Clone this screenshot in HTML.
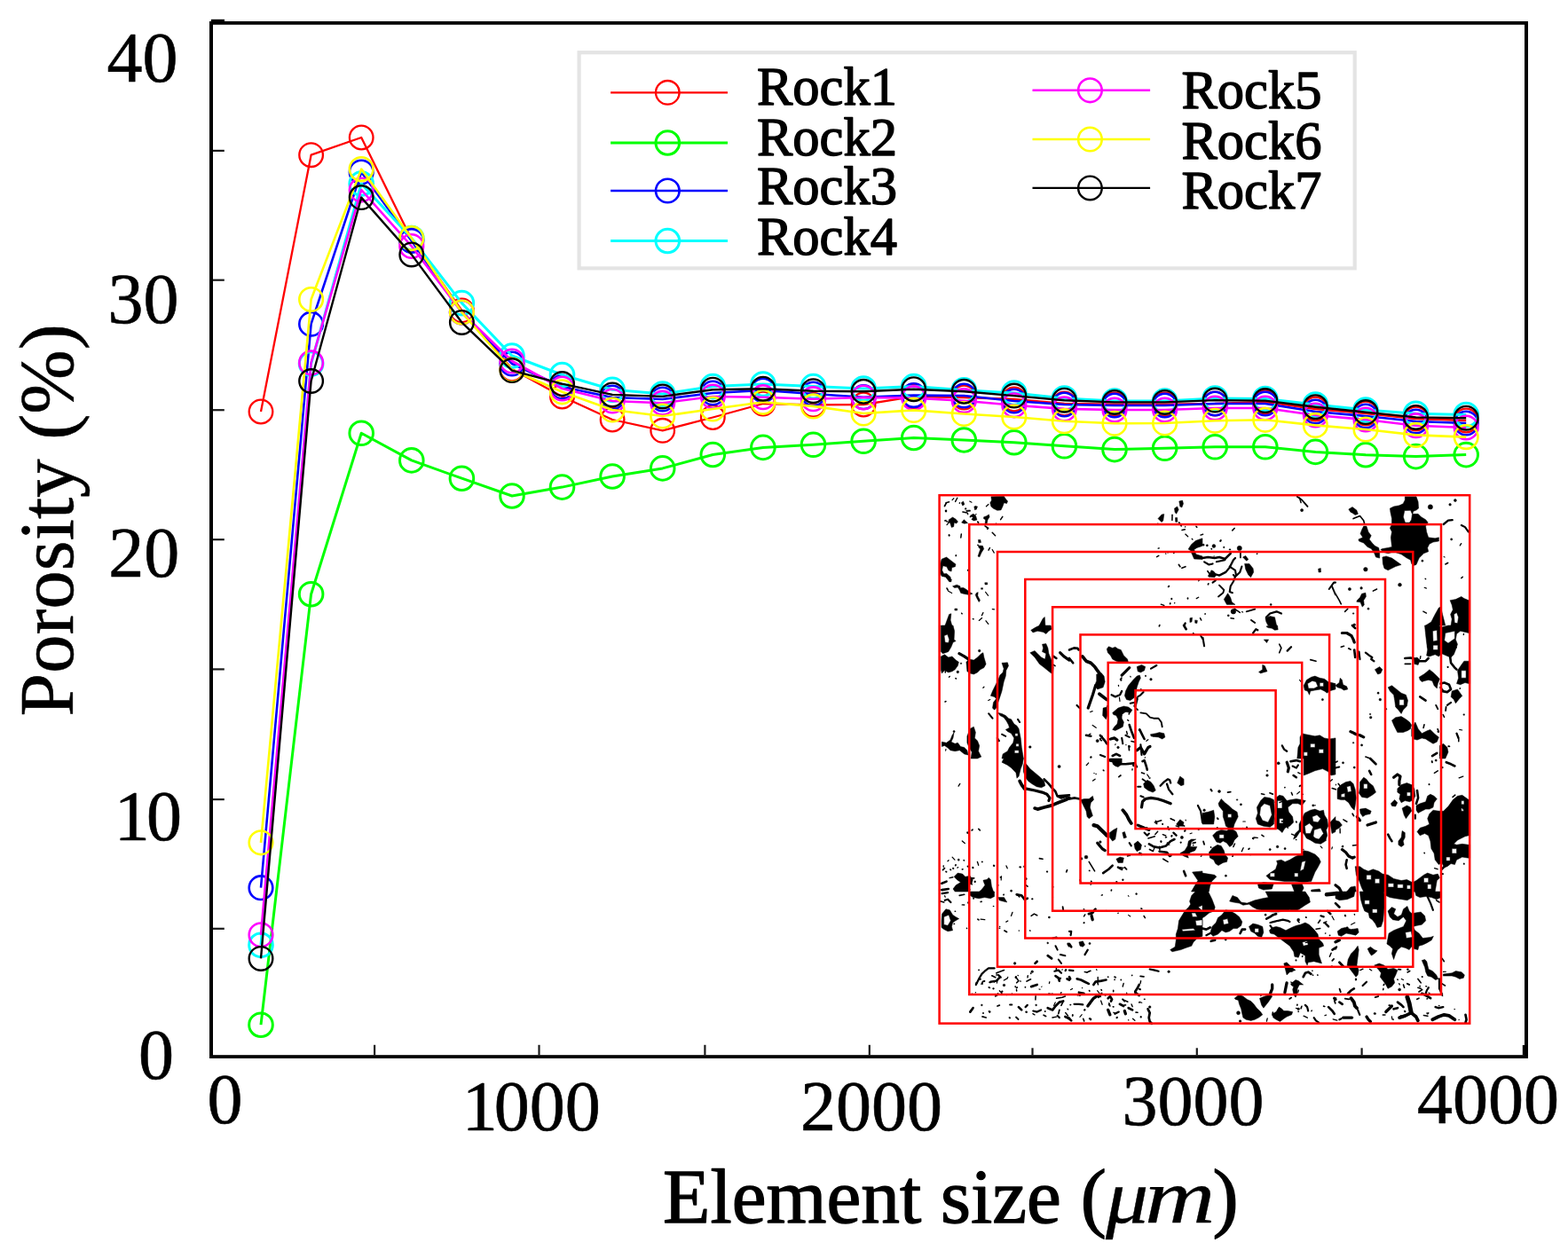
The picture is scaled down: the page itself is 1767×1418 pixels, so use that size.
<!DOCTYPE html>
<html><head><meta charset="utf-8"><title>Porosity vs Element size</title>
<style>html,body{margin:0;padding:0;background:#fff;}body{width:1767px;height:1418px;overflow:hidden;}svg{display:block;}</style>
</head><body>
<svg width="1767" height="1418" viewBox="0 0 1767 1418">
<rect x="0" y="0" width="1767" height="1418" fill="#fff"/>
<g fill="#000" stroke="#000" stroke-width="0.5" stroke-linejoin="round"><path d="M1116.9 559.8 L1131.2 559.2 L1133.8 562.9 L1135.6 565 L1134.5 567.5 L1131.4 566.8 L1129.9 570.9 L1128 574.9 L1123.8 575.3 L1119.5 573.2 L1116.9 570.9 L1115.8 566.8 L1117.4 564Z M1083.3 566.8 L1085.5 565 L1086.9 568.5 L1084.8 570Z M1097.8 570.9 L1100 570.3 L1100.7 574 L1098.4 574.7Z M1088.6 575.3 L1093.3 574.9 L1093.7 576.2 L1089.1 576.7Z M1093.3 581.2 L1096.8 579.3 L1099.6 581.4 L1101 585.9 L1097.5 586.9 L1094.8 585.5 L1096.5 583.3Z M1108.7 582.7 L1111.6 581.7 L1114.4 579.9 L1115.1 582.7 L1113 585.9 L1111.9 591.5 L1110 591.2 L1110.6 585.9 L1108.4 584.4Z M1069.1 585.9 L1073.5 583 L1076.9 585.1 L1079.5 588 L1077.7 590.1 L1075.3 589.1 L1074.7 593.7 L1072.3 594.4 L1070.9 590.1 L1069.6 588Z M1083.6 589.1 L1086.3 585.7 L1090.6 589.6 L1086.7 590.2Z M1102.4 608.4 L1104.9 608.4 L1105.4 611.6 L1102.8 611.8Z M1102.4 614.9 L1107.4 615.3 L1108.7 618.7 L1106 622.9 L1103.9 627.8 L1102 627.1 L1103.7 621.9 L1104.9 618.7 L1103.1 617.6Z M1061.1 630.3 L1066.6 628 L1071.1 631.4 L1077 636 L1076.4 638.8 L1072.7 639.8 L1072.1 644.1 L1069 643 L1066.8 638.8 L1062.6 637.7 L1061.6 642.8 L1063.7 646.8 L1066.8 646.6 L1071.1 650.4 L1072.1 655.7 L1069.8 655.7 L1065.6 650.4 L1061.1 649.4 L1059.7 646.2 L1059.7 635.6Z M1073.5 660.8 L1078.3 659.2 L1082 660.8 L1082.2 662.7 L1085.7 662.4 L1089.9 665 L1091.8 667.1 L1096 669.2 L1092.2 670.5 L1086.7 669.5 L1082.7 668.4 L1081.4 665.2 L1079.3 662.1 L1075.6 662.6Z M1100.3 668.4 L1102.2 667.6 L1101.8 671.4 L1104.5 676.7 L1103.2 678.6 L1100.5 673.7 L1099.2 670.5Z M1109.8 656.8 L1112.7 656.8 L1112.7 658.9 L1110 658.9Z M1105.6 662.7 L1107.5 662.7 L1107.5 664.2 L1105.6 664.2Z M1075.9 686 L1078.7 686 L1078.7 688.1 L1075.9 688.1Z M1065 705 L1069.6 692.5 L1071.9 691.7 L1071.1 699.1 L1072.8 705Z M1171.1 705 L1175.4 697 L1177.3 695.5 L1177.9 705Z"/><path d="M1060.3 739.9 L1064.5 737.8 L1068.8 741 L1073 739.9 L1077.2 744.1 L1080.4 746.3 L1079.3 750.5 L1076.2 754.7 L1073 756.8 L1068.8 757.9 L1064.5 755.8 L1061.3 758.9 L1060.3 754.7Z M1088.9 746.3 L1092 743.1 L1097.3 744.1 L1101.5 741 L1105.8 736.7 L1107.9 735.7 L1108.9 741 L1111.1 748.4 L1108.9 752.6 L1104.7 754.7 L1101.5 757.9 L1097.3 760 L1093.1 758.9 L1089.9 756.8Z M1129 747.3 L1135.4 746.8 L1136.5 750.5 L1133.8 755.8 L1133.3 762.1 L1131.2 768.5 L1129 779 L1126.9 785.4 L1124.8 791.7 L1122.7 798.1 L1120.6 800.2 L1118.5 798.1 L1119.5 791.7 L1122.7 787.5 L1120.6 785.4 L1116.4 784.3 L1118.5 779 L1121.6 772.7 L1124.8 766.4 L1126.9 761.1 L1130.1 757.9 L1131.2 753.7Z M1161.8 710.3 L1167.1 707.1 L1171.4 705 L1184.1 705 L1185.1 709.2 L1181.9 711.3 L1178.8 714.5 L1175.6 712.4 L1169.2 711.3 L1164 712.9Z M1160.8 735.7 L1166.1 733.6 L1169.2 736.7 L1173.5 741 L1177.7 743.1 L1178.8 736.7 L1174.5 734.6 L1175.6 730.4 L1174.5 726.2 L1178.8 725.6 L1180.9 730.4 L1181.9 736.7 L1184.1 742 L1186.2 747.3 L1187.2 752.6 L1186.2 760 L1181.9 756.8 L1176.7 752.6 L1171.4 748.4 L1166.1 741Z M1061.3 836.2 L1066.6 837.2 L1070.9 834.1 L1073 828.8 L1075.1 825.6 L1074 831.9 L1071.9 836.2 L1076.2 838.3 L1079.3 837.2 L1082.5 841.5 L1086.7 842.5 L1089.9 845.7 L1091 851 L1086.7 849.9 L1081.4 845.7 L1076.2 846.7 L1070.9 845.7 L1068.8 843.6 L1064.5 840.4 L1061.3 841.5Z M1089.9 829.8 L1093.1 821.4 L1097.3 819.2 L1099.4 825.6 L1098.4 831.9 L1101.5 835.1 L1103.7 840.4 L1102.6 846.7 L1105.8 853.1 L1101.5 855 L1094.1 855 L1095.2 847.8 L1092 842.5 L1089.9 837.2Z"/><path fill-rule="evenodd" d="M1060.3 705 L1074 705 L1075.6 711.3 L1075.1 720.9 L1077.2 722.5 L1074 724 L1071.9 729.3 L1068.8 734.6 L1065.6 735.7 L1062.4 736.7 L1060.3 734.6Z M1064 716.6 L1067.7 715 L1069.8 720.9 L1068.8 724.6 L1065 724Z"/><path fill-rule="evenodd" d="M1124.8 803.4 L1129 804.4 L1133.3 806.6 L1136.5 809.7 L1139.6 810.8 L1142.8 816.1 L1146 818.2 L1148.1 821.4 L1150.2 831.9 L1151.3 842.5 L1153.4 855 L1129 855 L1130.1 849.9 L1135.4 846.7 L1137.5 842.5 L1141.7 837.2 L1142.8 831.9 L1139.6 826.7 L1135.4 824.5 L1133.3 822.4 L1137.5 820.3 L1136.5 817.1 L1134.3 812.9 L1131.2 808.7 L1126.9 806.6Z M1143.9 826.7 L1147 826.7 L1147 829.8 L1143.9 829.8Z M1144.9 838.3 L1148.1 838.3 L1148.1 841.5 L1144.9 841.5Z M1143.3 845.7 L1148.1 845.7 L1148.1 848.9 L1143.3 848.9Z"/><polyline fill="none" stroke="#000" stroke-linecap="round" stroke-linejoin="round" stroke-width="3.2" points="1080.9,736.7 1086.7,739.9 1091.5,743.1"/><polyline fill="none" stroke="#000" stroke-linecap="round" stroke-linejoin="round" stroke-width="2.1" points="1114.2,804.4 1118.5,809.7"/><polyline fill="none" stroke="#000" stroke-linecap="round" stroke-linejoin="round" stroke-width="1.1" points="1113.7,789.6 1115.8,788.6"/><polyline fill="none" stroke="#000" stroke-linecap="round" stroke-linejoin="round" stroke-width="2.1" points="1147,810.8 1149.1,814"/><polyline fill="none" stroke="#000" stroke-linecap="round" stroke-linejoin="round" stroke-width="1.9" points="1129,827.7 1133.3,829.8"/><polyline fill="none" stroke="#000" stroke-linecap="round" stroke-linejoin="round" stroke-width="2.1" points="1123.8,831.9 1125.9,835.1"/><polyline fill="none" stroke="#000" stroke-linecap="round" stroke-linejoin="round" stroke-width="3.2" points="1194.6,735.7 1198.9,739.9 1205,744.1"/><polyline fill="none" stroke="#000" stroke-linecap="round" stroke-linejoin="round" stroke-width="2.6" points="1187.2,739.9 1190.4,742"/><polyline fill="none" stroke="#000" stroke-linecap="round" stroke-linejoin="round" stroke-width="1.5" points="1187.2,749.4 1189.1,750.7"/><circle cx="1103.7" cy="733.6" r="1.3"/><circle cx="1079.3" cy="757.4" r="1.3"/><circle cx="1083" cy="747.8" r="0.8"/><circle cx="1160.8" cy="842" r="1.3"/><circle cx="1075.1" cy="824.5" r="1.1"/><path d="M1129 859.2 L1131.2 855 L1153.4 855 L1152.3 861.3 L1150.2 866.6 L1148.1 875.1 L1146 877.2 L1144.9 870.9 L1139.6 865.6 L1135.4 862.4Z M1154.4 859.2 L1156.6 861.3 L1160.8 866.6 L1166.1 870.9 L1172.4 876.2 L1176.7 880.4 L1177.7 885.7 L1173.5 887.8 L1168.2 886.7 L1162.9 883.6 L1158.7 880.4 L1155.5 876.2 L1153.4 869.8 L1153.4 863.5Z M1075.1 988.3 L1079.3 984.1 L1084.6 985.1 L1087.8 988.3 L1093.1 987.2 L1096.3 991.5 L1095.2 995.7 L1092 997.8 L1091 1005 L1076.2 1005 L1074 1002 L1077.2 997.8 L1082.5 994.6 L1078.3 991.5Z M1107.9 992.5 L1112.1 991.5 L1114.2 989.3 L1116.4 991.5 L1117.4 998.9 L1119.5 1005 L1103.7 1005 L1106.8 1002 L1110 997.8Z"/><polyline fill="none" stroke="#000" stroke-linecap="round" stroke-linejoin="round" stroke-width="3.7" points="1149.1,880.4 1151.3,884.6 1154.4,888.9"/><polyline fill="none" stroke="#000" stroke-linecap="round" stroke-linejoin="round" stroke-width="3.2" points="1155.5,888.9 1166.1,891 1174.5,893.1 1179.8,895.2 1183,899.4 1181.9,902.6"/><polyline fill="none" stroke="#000" stroke-linecap="round" stroke-linejoin="round" stroke-width="2.6" points="1176.7,878.3 1181.9,883.6 1186.2,888.9 1189.3,892 1191.5,897.3 1195.7,899.4 1203.1,897.3"/><polyline fill="none" stroke="#000" stroke-linecap="round" stroke-linejoin="round" stroke-width="3.7" points="1166.1,911.1 1169.2,912.1 1176.7,910 1185.1,907.9 1192.5,904.7 1201,901.5 1205,899.4"/><polyline fill="none" stroke="#000" stroke-linecap="round" stroke-linejoin="round" stroke-width="2.6" points="1192.5,897.3 1205,896.3"/><polyline fill="none" stroke="#000" stroke-linecap="round" stroke-linejoin="round" stroke-width="2.6" points="1061.3,995.7 1066.6,993.6"/><polyline fill="none" stroke="#000" stroke-linecap="round" stroke-linejoin="round" stroke-width="2.6" points="1061.3,1003.1 1068.8,1002"/><circle cx="1193.6" cy="864" r="1.6"/><circle cx="1139.6" cy="1004.2" r="1.1"/><path d="M1092.2 1005 L1120.6 1005 L1120.6 1010.5 L1116.2 1012.7 L1109.7 1011.6 L1103.1 1012.7 L1096.5 1011.6 L1093.3 1009.4Z M1125 1011.6 L1131.5 1011.6 L1134.8 1017 L1130.4 1015.9 L1126.1 1014.8Z"/><path fill-rule="evenodd" d="M1061.6 1030.1 L1065.9 1024.7 L1070.3 1025.8 L1073.6 1031.2 L1076.9 1033.4 L1080.7 1035.6 L1076.9 1037.8 L1073.6 1040 L1072.5 1044.4 L1073.6 1048.7 L1068.1 1049.8 L1063.7 1047.6 L1061 1045.5 L1061 1037.8Z M1063.7 1033.4 L1069.2 1031.2 L1071.4 1037.8 L1068.1 1043.3 L1063.7 1042.2Z"/><polyline fill="none" stroke="#000" stroke-linecap="round" stroke-linejoin="round" stroke-width="2.7" points="1145.7,1008.3 1151.2,1009.4 1154.5,1013.7 1157.8,1012.7"/><polyline fill="none" stroke="#000" stroke-linecap="round" stroke-linejoin="round" stroke-width="1.6" points="1081.2,1009.4 1086.7,1008.3"/><polyline fill="none" stroke="#000" stroke-linecap="round" stroke-linejoin="round" stroke-width="2.2" points="1064.8,1014.8 1068.1,1013.7 1071.4,1017"/><polyline fill="none" stroke="#000" stroke-linecap="round" stroke-linejoin="round" stroke-width="2.2" points="1061.6,1007.2 1068.1,1006.1"/><polyline fill="none" stroke="#000" stroke-linecap="round" stroke-linejoin="round" stroke-width="1.6" points="1162.1,1032.3 1165.4,1030.1 1168.7,1031.8"/><polyline fill="none" stroke="#000" stroke-linecap="round" stroke-linejoin="round" stroke-width="2.2" points="1099.8,1110 1103.1,1103.4 1106.4,1097.9 1109.7,1094.7 1114,1091.4 1120.6,1091.4"/><polyline fill="none" stroke="#000" stroke-linecap="round" stroke-linejoin="round" stroke-width="2.4" points="1116.2,1106.7 1122.8,1105.6 1127.2,1101.2 1125,1099"/><polyline fill="none" stroke="#000" stroke-linecap="round" stroke-linejoin="round" stroke-width="1.6" points="1122.8,1096.8 1131.5,1093.6"/><polyline fill="none" stroke="#000" stroke-linecap="round" stroke-linejoin="round" stroke-width="1.6" points="1144.7,1101.2 1147.9,1105.6 1145.7,1107.8"/><polyline fill="none" stroke="#000" stroke-linecap="round" stroke-linejoin="round" stroke-width="2.7" points="1166.5,1085.9 1168.7,1083.7"/><polyline fill="none" stroke="#000" stroke-linecap="round" stroke-linejoin="round" stroke-width="2.7" points="1162.1,1112.1 1168.7,1110"/><polyline fill="none" stroke="#000" stroke-linecap="round" stroke-linejoin="round" stroke-width="2.7" points="1180.7,1077.2 1185.1,1080.4"/><polyline fill="none" stroke="#000" stroke-linecap="round" stroke-linejoin="round" stroke-width="2" points="1189.5,1066.2 1191.7,1070.6"/><polyline fill="none" stroke="#000" stroke-linecap="round" stroke-linejoin="round" stroke-width="2" points="1194.9,1076.1 1200.4,1077.2"/><polyline fill="none" stroke="#000" stroke-linecap="round" stroke-linejoin="round" stroke-width="2" points="1192.8,1081.5 1196,1085.9"/><polyline fill="none" stroke="#000" stroke-linecap="round" stroke-linejoin="round" stroke-width="2.2" points="1188.4,1094.7 1192.8,1093.6 1196,1096.8"/><polyline fill="none" stroke="#000" stroke-linecap="round" stroke-linejoin="round" stroke-width="2.7" points="1189.5,1100.1 1192.8,1102.3 1193.8,1105.6"/><polyline fill="none" stroke="#000" stroke-linecap="round" stroke-linejoin="round" stroke-width="2.7" points="1203.7,1064 1205,1066.2"/><polyline fill="none" stroke="#000" stroke-linecap="round" stroke-linejoin="round" stroke-width="2.7" points="1202.6,1103.4 1205,1104.5"/><polyline fill="none" stroke="#000" stroke-linecap="round" stroke-linejoin="round" stroke-width="2.7" points="1093.3,1140.6 1096.5,1136.2"/><polyline fill="none" stroke="#000" stroke-linecap="round" stroke-linejoin="round" stroke-width="2" points="1138.1,1132.4 1140.3,1132.4"/><polyline fill="none" stroke="#000" stroke-linecap="round" stroke-linejoin="round" stroke-width="2.7" points="1147.9,1135.1 1151.2,1138.4"/><polyline fill="none" stroke="#000" stroke-linecap="round" stroke-linejoin="round" stroke-width="2.2" points="1155.6,1135.1 1157.8,1132.9"/><polyline fill="none" stroke="#000" stroke-linecap="round" stroke-linejoin="round" stroke-width="2.2" points="1164.3,1139.5 1168.7,1140.6 1173.1,1138.4"/><polyline fill="none" stroke="#000" stroke-linecap="round" stroke-linejoin="round" stroke-width="2.7" points="1180.7,1136.2 1186.2,1138.4 1189.5,1134 1193.8,1129.6 1198.2,1128.5"/><polyline fill="none" stroke="#000" stroke-linecap="round" stroke-linejoin="round" stroke-width="2.2" points="1191.7,1144.9 1193.8,1147.1"/><polyline fill="none" stroke="#000" stroke-linecap="round" stroke-linejoin="round" stroke-width="2.7" points="1200.4,1146 1205,1148.2"/><polyline fill="none" stroke="#000" stroke-linecap="round" stroke-linejoin="round" stroke-width="1.3" points="1181.8,1119.8 1186.2,1120.9"/><polyline fill="none" stroke="#000" stroke-linecap="round" stroke-linejoin="round" stroke-width="1.6" points="1190.6,1125.3 1197.1,1124.2 1200.4,1123.1"/><polyline fill="none" stroke="#000" stroke-linecap="round" stroke-linejoin="round" stroke-width="2" points="1186.2,1057.5 1190.6,1056.4"/><circle cx="1131.5" cy="1110.5" r="1.3"/><circle cx="1119.5" cy="1114.3" r="0.9"/><circle cx="1129.3" cy="1117.6" r="0.9"/><circle cx="1143.6" cy="1085.9" r="1.3"/><circle cx="1163.2" cy="1095.2" r="1.3"/><circle cx="1180.7" cy="1062.9" r="0.9"/><circle cx="1106.4" cy="1132.9" r="0.9"/><circle cx="1167.6" cy="1132.9" r="0.9"/><path d="M1305 584.6 L1309.2 579.9 L1311.8 579.5 L1310.8 586.7 L1309.2 588.6 L1307.1 586.7Z M1323.5 573 L1326.7 570.9 L1328.2 574.6 L1325.6 579.3 L1324 577.2Z M1328.8 565 L1332.5 564 L1333.5 567.7 L1331.9 571.9 L1329.8 570.9Z M1324.5 583.6 L1326.7 583.6 L1326.9 588.3 L1324.7 588.3Z M1320.5 579.9 L1321.6 579.9 L1321.4 586.7 L1320.3 586.7Z M1339.1 619 L1342.5 613.7 L1347.3 609.5 L1351.5 607.9 L1355 606.8 L1355 615.3 L1352 616.4 L1348.9 617.4 L1345.7 619.5 L1347.8 624.8 L1355 626.9 L1355 630.6 L1345.7 630.1 L1343.6 625.3 L1341.5 620.6Z M1340.9 696.7 L1343.6 696.2 L1343 701 L1340.9 701.5Z M1346.7 698.9 L1349.4 699.4 L1348.9 702.6 L1346.7 702.2Z M1333 705 L1335.3 701.5 L1336.7 702 L1335.6 705Z"/><path d="M1235.7 760 L1241 758.4 L1244.1 762.1 L1245.2 768.5 L1243.1 774.8 L1236.7 776.9 L1233.6 772.7 L1235.7 767.4Z M1243.1 798.1 L1247.3 797 L1248.4 805.5 L1246.3 810.8 L1242.6 806.6Z M1247.3 731.4 L1249.4 728.8 L1253.7 730.4 L1256.8 729.3 L1260 731.4 L1263.2 732.5 L1266.4 738.9 L1270.6 743.1 L1271.6 747.3 L1264.2 747.3 L1257.9 745.2 L1253.7 743.1 L1251.5 738.9 L1248.4 735.7Z M1281.2 751.5 L1286.5 749.4 L1290.7 751.5 L1289.6 755.8 L1285.4 757.9 L1282.2 756.8Z M1268.5 779 L1271.6 772.7 L1276.9 766.4 L1281.2 762.1 L1284.3 761.1 L1285.4 764.2 L1283.3 768.5 L1281.2 774.8 L1280.1 781.2 L1278 786.5 L1273.8 789.6 L1269.5 788.6 L1267.4 784.3Z M1253.7 803.4 L1260 798.1 L1266.4 796 L1271.6 797 L1275.9 800.2 L1273.8 803.4 L1268.5 802.3 L1264.2 805.5 L1264.2 809.7 L1266.4 814 L1265.3 819.2 L1261.1 821.4 L1256.8 823.5 L1253.7 822.4 L1255.8 819.2 L1258.9 816.1 L1260 810.8 L1257.9 806.6 L1254.7 805.5Z M1296.5 827.7 L1302.3 826.7 L1306.6 825.6 L1311.8 826.7 L1312.9 830.9 L1309.7 833 L1305.5 830.9 L1300.2 830.4 L1297 829.8Z"/><polyline fill="none" stroke="#000" stroke-linecap="round" stroke-linejoin="round" stroke-width="2.6" points="1205,732.5 1210.3,730.4 1214.5,730.9 1215.6,732.5"/><polyline fill="none" stroke="#000" stroke-linecap="round" stroke-linejoin="round" stroke-width="2.6" points="1205,742 1209.2,747.3"/><polyline fill="none" stroke="#000" stroke-linecap="round" stroke-linejoin="round" stroke-width="3.7" points="1219.8,739.9 1224,745.2 1229.3,747.3 1233.6,751.5 1236.7,755.8 1239.9,760 1242,764.2"/><polyline fill="none" stroke="#000" stroke-linecap="round" stroke-linejoin="round" stroke-width="3.2" points="1234.6,772.7 1231.4,783.3 1226.2,798.1"/><polyline fill="none" stroke="#000" stroke-linecap="round" stroke-linejoin="round" stroke-width="3.7" points="1238.9,782.2 1247.3,788.6"/><polyline fill="none" stroke="#000" stroke-linecap="round" stroke-linejoin="round" stroke-width="3.2" points="1264.2,761.1 1268.5,756.8 1272.7,752.6"/><polyline fill="none" stroke="#000" stroke-linecap="round" stroke-linejoin="round" stroke-width="2.1" points="1297,753.7 1303.4,750"/><polyline fill="none" stroke="#000" stroke-linecap="round" stroke-linejoin="round" stroke-width="2.3" points="1252.6,783.3 1256.8,785.4 1262.1,783.3 1264.2,779"/><polyline fill="none" stroke="#000" stroke-linecap="round" stroke-linejoin="round" stroke-width="2.1" points="1282.2,785.4 1285.4,783.3 1288.6,780.1"/><polyline fill="none" stroke="#000" stroke-linecap="round" stroke-linejoin="round" stroke-width="2.1" points="1273.8,792.8 1279,791.7"/><polyline fill="none" stroke="#000" stroke-linecap="round" stroke-linejoin="round" stroke-width="3.2" points="1281.2,787.5 1279,796"/><polyline fill="none" stroke="#000" stroke-linecap="round" stroke-linejoin="round" stroke-width="2.6" points="1272.7,817.1 1274.8,823.5 1278,831.9"/><polyline fill="none" stroke="#000" stroke-linecap="round" stroke-linejoin="round" stroke-width="1.9" points="1285.4,803.4 1291.7,804.4 1296,808.7 1300.2,809.7 1305.5,809.7 1308.7,814 1309.7,819.2"/><polyline fill="none" stroke="#000" stroke-linecap="round" stroke-linejoin="round" stroke-width="2.6" points="1284.3,822.4 1287.5,828.8 1289.6,833"/><polyline fill="none" stroke="#000" stroke-linecap="round" stroke-linejoin="round" stroke-width="2.6" points="1224,828.8 1229.3,829.8"/><polyline fill="none" stroke="#000" stroke-linecap="round" stroke-linejoin="round" stroke-width="2.6" points="1239.9,828.8 1245.2,835.1 1247.3,838.3"/><polyline fill="none" stroke="#000" stroke-linecap="round" stroke-linejoin="round" stroke-width="3.2" points="1251.5,833 1255.8,831.9 1258.9,834.1"/><polyline fill="none" stroke="#000" stroke-linecap="round" stroke-linejoin="round" stroke-width="2.1" points="1264.2,831.9 1265.3,838.3"/><polyline fill="none" stroke="#000" stroke-linecap="round" stroke-linejoin="round" stroke-width="2.1" points="1268.5,828.8 1272.7,830.9"/><polyline fill="none" stroke="#000" stroke-linecap="round" stroke-linejoin="round" stroke-width="2.1" points="1239.9,851 1245.2,853.1"/><polyline fill="none" stroke="#000" stroke-linecap="round" stroke-linejoin="round" stroke-width="2.6" points="1253.7,852 1257.9,849.9 1262.1,852"/><polyline fill="none" stroke="#000" stroke-linecap="round" stroke-linejoin="round" stroke-width="3.2" points="1281.2,845.7 1285.4,842.5 1289.6,849.9 1293.9,842.5 1296,841.5"/><polyline fill="none" stroke="#000" stroke-linecap="round" stroke-linejoin="round" stroke-width="2.1" points="1285.4,839.3 1286.5,851"/><polyline fill="none" stroke="#000" stroke-linecap="round" stroke-linejoin="round" stroke-width="2.1" points="1213.5,794.9 1216.6,798.1"/><polyline fill="none" stroke="#000" stroke-linecap="round" stroke-linejoin="round" stroke-width="2.6" points="1334.1,705 1336.7,709.2"/><polyline fill="none" stroke="#000" stroke-linecap="round" stroke-linejoin="round" stroke-width="1.9" points="1353.1,716.6 1355,719.8"/><circle cx="1297" cy="765.8" r="1.3"/><circle cx="1236.7" cy="835.1" r="1.6"/><circle cx="1260" cy="842.5" r="1.3"/><circle cx="1272.7" cy="841.5" r="1.1"/><path d="M1250.5 855 L1264.2 855 L1264.2 861.3 L1260 864.5 L1256.8 863.5 L1253.7 859.2Z M1288.6 883.6 L1292.8 879.3 L1297 881.4 L1300.2 885.7 L1302.3 891 L1299.1 893.1 L1293.9 891 L1289.6 887.8Z M1326.7 882.5 L1329.8 875.1 L1334.1 878.3 L1334.1 884.6 L1330.9 885.7Z M1217.7 901.5 L1221.9 900.5 L1227.2 900.5 L1231.4 897.3 L1232.5 901.5 L1229.3 904.7 L1228.3 910 L1230.4 916.4 L1231.4 919.5 L1227.2 922.7 L1225.1 920.6 L1224 914.2 L1221.9 910 L1219.8 905.8Z M1250.5 938.6 L1254.7 935.4 L1258.9 933.3 L1257.9 939.6 L1256.8 946 L1253.7 948.1 L1250.5 943.9Z M1264.8 938.6 L1267.4 937.5 L1269.5 943.9 L1266.4 944.9Z M1257.9 968.2 L1262.1 966.1 L1266.4 967.1 L1265.3 972.4 L1260 972.4Z M1278 951.3 L1282.2 948.1 L1286.5 952.3 L1285.4 957.6 L1281.2 959.7 L1279 956.6Z M1325.6 929 L1329.8 923.8 L1334.1 926.9 L1333 931.2 L1327.7 931.2Z M1329.8 961.8 L1335.1 958.7 L1338.3 953.4 L1339.3 948.1 L1342.5 946 L1347.8 946 L1342.5 949.1 L1341.5 954.4 L1348.9 954.4 L1346.7 958.7 L1341.5 960.8 L1338.3 964 L1339.3 967.1 L1334.1 965Z M1343.6 983 L1355 981.9 L1355 1005 L1342.5 1005 L1346.7 997.8 L1349.9 992.5Z"/><polyline fill="none" stroke="#000" stroke-linecap="round" stroke-linejoin="round" stroke-width="2.6" points="1249.4,856.1 1254.7,858.2 1260,861.3 1268.5,861.3 1278,860.3"/><polyline fill="none" stroke="#000" stroke-linecap="round" stroke-linejoin="round" stroke-width="2.1" points="1279,860.3 1281.2,864.5"/><polyline fill="none" stroke="#000" stroke-linecap="round" stroke-linejoin="round" stroke-width="2.6" points="1287.5,858.2 1289.6,857.1 1291.7,863.5 1292.8,867.7"/><polyline fill="none" stroke="#000" stroke-linecap="round" stroke-linejoin="round" stroke-width="1.6" points="1286.5,870.9 1289.6,871.9"/><polyline fill="none" stroke="#000" stroke-linecap="round" stroke-linejoin="round" stroke-width="1.3" points="1292.8,873 1294.9,876.2"/><polyline fill="none" stroke="#000" stroke-linecap="round" stroke-linejoin="round" stroke-width="2.1" points="1282.2,886.7 1285.4,886.7"/><polyline fill="none" stroke="#000" stroke-linecap="round" stroke-linejoin="round" stroke-width="2.3" points="1307.6,885.7 1311.8,881.4 1316.1,878.3 1318.2,879.3 1319.2,882.5"/><polyline fill="none" stroke="#000" stroke-linecap="round" stroke-linejoin="round" stroke-width="2.3" points="1315,883.6 1317.1,889.9 1321.4,895.2"/><polyline fill="none" stroke="#000" stroke-linecap="round" stroke-linejoin="round" stroke-width="3.2" points="1286.5,910 1287.5,903.7 1290.7,900.5 1297,899.4 1304.4,900.5 1310.8,902.6 1319.2,905.8"/><polyline fill="none" stroke="#000" stroke-linecap="round" stroke-linejoin="round" stroke-width="2.1" points="1285.4,897.3 1288.6,898.4"/><polyline fill="none" stroke="#000" stroke-linecap="round" stroke-linejoin="round" stroke-width="2.1" points="1349.9,907.9 1353.1,914.2 1355,926.9"/><polyline fill="none" stroke="#000" stroke-linecap="round" stroke-linejoin="round" stroke-width="2.6" points="1205,900.5 1211.3,899.4 1216.6,900.5"/><polyline fill="none" stroke="#000" stroke-linecap="round" stroke-linejoin="round" stroke-width="3.7" points="1265.3,913.2 1269.5,918.5 1272.7,924.8 1274.8,928"/><polyline fill="none" stroke="#000" stroke-linecap="round" stroke-linejoin="round" stroke-width="4.2" points="1232.5,930.1 1236.7,931.2 1241,935.4 1245.2,939.6 1247.3,941.7"/><polyline fill="none" stroke="#000" stroke-linecap="round" stroke-linejoin="round" stroke-width="3.2" points="1236.7,950.2 1242,956.6 1245.2,958.7"/><polyline fill="none" stroke="#000" stroke-linecap="round" stroke-linejoin="round" stroke-width="1.6" points="1227.2,971.4 1230.4,976.7 1233.6,981.9"/><polyline fill="none" stroke="#000" stroke-linecap="round" stroke-linejoin="round" stroke-width="2.6" points="1243.1,984.1 1249.4,979.8 1253.7,975.6"/><polyline fill="none" stroke="#000" stroke-linecap="round" stroke-linejoin="round" stroke-width="2.6" points="1260,977.7 1264.2,979.8"/><polyline fill="none" stroke="#000" stroke-linecap="round" stroke-linejoin="round" stroke-width="1.9" points="1267.4,977.7 1269.5,979.8"/><polyline fill="none" stroke="#000" stroke-linecap="round" stroke-linejoin="round" stroke-width="2.1" points="1272.7,950.2 1274.8,953.4"/><polyline fill="none" stroke="#000" stroke-linecap="round" stroke-linejoin="round" stroke-width="3.2" points="1282.2,930.1 1289.6,933.3 1294.9,935.4"/><polyline fill="none" stroke="#000" stroke-linecap="round" stroke-linejoin="round" stroke-width="2.1" points="1289.6,938.6 1292.8,941.7 1294.9,939.6"/><polyline fill="none" stroke="#000" stroke-linecap="round" stroke-linejoin="round" stroke-width="1.6" points="1293.9,944.9 1301.3,942.8"/><polyline fill="none" stroke="#000" stroke-linecap="round" stroke-linejoin="round" stroke-width="1.6" points="1301.3,926.9 1308.7,924.8"/><polyline fill="none" stroke="#000" stroke-linecap="round" stroke-linejoin="round" stroke-width="1.6" points="1319.2,922.7 1323.5,924.8"/><polyline fill="none" stroke="#000" stroke-linecap="round" stroke-linejoin="round" stroke-width="2.3" points="1322.4,938.6 1325.6,941.7"/><polyline fill="none" stroke="#000" stroke-linecap="round" stroke-linejoin="round" stroke-width="2.6" points="1294.9,951.3 1300.2,954.4 1306.6,955.5 1314,953.4 1319.2,948.1 1323.5,946"/><polyline fill="none" stroke="#000" stroke-linecap="round" stroke-linejoin="round" stroke-width="2.6" points="1306.6,959.7 1315,960.8 1318.2,965"/><polyline fill="none" stroke="#000" stroke-linecap="round" stroke-linejoin="round" stroke-width="1.6" points="1310.8,968.2 1316.1,971.4"/><polyline fill="none" stroke="#000" stroke-linecap="round" stroke-linejoin="round" stroke-width="2.6" points="1284.3,961.8 1286.5,962.9"/><polyline fill="none" stroke="#000" stroke-linecap="round" stroke-linejoin="round" stroke-width="1.6" points="1270.6,965 1272.7,964"/><polyline fill="none" stroke="#000" stroke-linecap="round" stroke-linejoin="round" stroke-width="2.6" points="1334.1,981.9 1336.2,987.2"/><circle cx="1239.9" cy="949.1" r="1.3"/><circle cx="1224" cy="966.1" r="1.9"/><circle cx="1331.9" cy="943.9" r="1.6"/><path d="M1215.9 1061.9 L1220.3 1060.8 L1222.5 1065.1 L1220.3 1067.3 L1217 1066.2Z"/><path fill-rule="evenodd" d="M1340.6 1015.9 L1342.8 1009.4 L1347.1 1005 L1355 1005 L1355 1020.3 L1350.4 1022.5 L1355 1026.9 L1355 1055.3 L1349.3 1057.5 L1344.9 1061.9 L1342.8 1066.2 L1336.2 1068.4 L1330.7 1070.6 L1320.9 1072.8 L1318.7 1070.6 L1324.2 1067.3 L1325.3 1059.7 L1325.3 1053.1 L1327.4 1046.5 L1328.5 1037.8 L1331.8 1032.3 L1335.1 1026.9 L1339.5 1022.5 L1341.7 1019.2Z M1342.8 1029.1 L1347.1 1029.1 L1349.3 1033.4 L1343.8 1033.4Z M1347.1 1037.8 L1355 1036.7 L1355 1043.3 L1348.2 1043.3Z M1331.8 1047.6 L1344.9 1046.5 L1347.1 1048.7 L1332.9 1049.8Z"/><polyline fill="none" stroke="#000" stroke-linecap="round" stroke-linejoin="round" stroke-width="2.7" points="1226.9,1030.1 1231.2,1029.1 1233.4,1025.8 1234.5,1024.7"/><polyline fill="none" stroke="#000" stroke-linecap="round" stroke-linejoin="round" stroke-width="3.3" points="1230.1,1032.3 1231.2,1036.7"/><polyline fill="none" stroke="#000" stroke-linecap="round" stroke-linejoin="round" stroke-width="2.2" points="1205,1049.8 1207.2,1049.8 1206.6,1054.2"/><polyline fill="none" stroke="#000" stroke-linecap="round" stroke-linejoin="round" stroke-width="2.7" points="1205,1064 1207.2,1067.3"/><polyline fill="none" stroke="#000" stroke-linecap="round" stroke-linejoin="round" stroke-width="2.2" points="1222.5,1076.1 1225.8,1070.6"/><polyline fill="none" stroke="#000" stroke-linecap="round" stroke-linejoin="round" stroke-width="2.2" points="1295.7,1092.5 1301.2,1093.6 1305.6,1094.7"/><polyline fill="none" stroke="#000" stroke-linecap="round" stroke-linejoin="round" stroke-width="2.2" points="1205,1093.6 1209.4,1094.1"/><polyline fill="none" stroke="#000" stroke-linecap="round" stroke-linejoin="round" stroke-width="2.7" points="1205,1101.2 1206.1,1103.4"/><polyline fill="none" stroke="#000" stroke-linecap="round" stroke-linejoin="round" stroke-width="2.7" points="1213.7,1103.4 1218.1,1104.5 1222.5,1106.7 1226.9,1108.9"/><polyline fill="none" stroke="#000" stroke-linecap="round" stroke-linejoin="round" stroke-width="2.7" points="1232.3,1110 1234.5,1106.7 1241.1,1105.6 1246.5,1104.5"/><polyline fill="none" stroke="#000" stroke-linecap="round" stroke-linejoin="round" stroke-width="2.7" points="1279.3,1117.6 1281.5,1114.3 1283.7,1110"/><polyline fill="none" stroke="#000" stroke-linecap="round" stroke-linejoin="round" stroke-width="2.7" points="1279.3,1118.7 1283.7,1122"/><polyline fill="none" stroke="#000" stroke-linecap="round" stroke-linejoin="round" stroke-width="2.7" points="1215.9,1118.7 1221.4,1119.8"/><polyline fill="none" stroke="#000" stroke-linecap="round" stroke-linejoin="round" stroke-width="2.2" points="1210.5,1131.8 1215.9,1131.8 1220.3,1132.4"/><polyline fill="none" stroke="#000" stroke-linecap="round" stroke-linejoin="round" stroke-width="3.3" points="1225.8,1134 1229.1,1129.6 1232.3,1125.3 1235.6,1123.1"/><polyline fill="none" stroke="#000" stroke-linecap="round" stroke-linejoin="round" stroke-width="2.2" points="1237.8,1122.5 1240,1123.1"/><polyline fill="none" stroke="#000" stroke-linecap="round" stroke-linejoin="round" stroke-width="2.7" points="1248.7,1125.3 1250.9,1123.1 1253.1,1126.4 1252,1128.5"/><polyline fill="none" stroke="#000" stroke-linecap="round" stroke-linejoin="round" stroke-width="1.6" points="1249.8,1130.7 1250.9,1134"/><polyline fill="none" stroke="#000" stroke-linecap="round" stroke-linejoin="round" stroke-width="3.3" points="1248.7,1138.4 1250.9,1143.8"/><polyline fill="none" stroke="#000" stroke-linecap="round" stroke-linejoin="round" stroke-width="2.2" points="1256.4,1142.8 1260.8,1140.6"/><polyline fill="none" stroke="#000" stroke-linecap="round" stroke-linejoin="round" stroke-width="2.7" points="1261.9,1131.8 1266.2,1134"/><polyline fill="none" stroke="#000" stroke-linecap="round" stroke-linejoin="round" stroke-width="2" points="1265.1,1126.4 1267.3,1128.5"/><polyline fill="none" stroke="#000" stroke-linecap="round" stroke-linejoin="round" stroke-width="3.3" points="1267.3,1139.5 1268.4,1142.8"/><polyline fill="none" stroke="#000" stroke-linecap="round" stroke-linejoin="round" stroke-width="2.7" points="1271.7,1136.2 1276.1,1138.4"/><polyline fill="none" stroke="#000" stroke-linecap="round" stroke-linejoin="round" stroke-width="2.7" points="1293.6,1137.3 1295.7,1141.7 1294.7,1147.1 1295.7,1151.5 1297.9,1153.7"/><polyline fill="none" stroke="#000" stroke-linecap="round" stroke-linejoin="round" stroke-width="2.7" points="1205,1148.2 1207.2,1150.4"/><circle cx="1228" cy="1063.5" r="1.1"/><circle cx="1317.1" cy="1095.2" r="1.3"/><circle cx="1248.7" cy="1101.2" r="0.7"/><circle cx="1258.6" cy="1147.1" r="0.9"/><circle cx="1228" cy="1148.2" r="0.9"/><circle cx="1295.7" cy="1135.1" r="1.3"/><path d="M1362.4 650.2 L1365 642.8 L1367.7 643.9 L1370.9 648.1 L1368.8 650.7Z M1402.6 635.4 L1407.9 635.4 L1412.1 640.7 L1412.7 644.9 L1409.5 650.7 L1406.8 648.1 L1403.7 641.7Z M1400.5 628 L1403.7 626.4 L1406.8 630.6 L1404.7 632.2Z M1379.3 675.6 L1383.6 668.7 L1386.7 673.5 L1388.3 678.8 L1392 681.4 L1382.5 681.4 L1380.4 677.7Z M1425.9 696.7 L1431.2 694.6 L1436.5 695.7 L1438.6 705 L1429 705 L1426.9 701Z M1485.6 641.2 L1488.3 640.5 L1488.5 644.9 L1486 645.1Z"/><polyline fill="none" stroke="#000" stroke-linecap="round" stroke-linejoin="round" stroke-width="1.9" points="1461.8,559.8 1467.1,563.5 1473.5,570.9"/><polyline fill="none" stroke="#000" stroke-linecap="round" stroke-linejoin="round" stroke-width="1.5" points="1464.5,561.3 1466.1,566.6"/><polyline fill="none" stroke="#000" stroke-linecap="round" stroke-linejoin="round" stroke-width="2.6" points="1355,629 1361.3,628 1368.8,629 1374,628 1380.4,630.1 1386.7,623.8"/><polyline fill="none" stroke="#000" stroke-linecap="round" stroke-linejoin="round" stroke-width="2.1" points="1357.1,633.3 1362.4,636.5 1366.6,635.4"/><polyline fill="none" stroke="#000" stroke-linecap="round" stroke-linejoin="round" stroke-width="2.1" points="1370.9,633.3 1380.4,631.2"/><polyline fill="none" stroke="#000" stroke-linecap="round" stroke-linejoin="round" stroke-width="2.3" points="1362.4,649.1 1365.6,644.4 1368.8,647 1374,648.6 1381.4,644.9 1385.7,639.6 1389.9,631.2 1392,629"/><polyline fill="none" stroke="#000" stroke-linecap="round" stroke-linejoin="round" stroke-width="2.1" points="1385.7,638.6 1392,642.8 1393.1,649.1 1397.3,644.9 1399.4,638.6"/><polyline fill="none" stroke="#000" stroke-linecap="round" stroke-linejoin="round" stroke-width="2.1" points="1389.9,648.1 1392,650.2 1389.9,655.5 1386.7,660.8 1385.7,667.1 1388.9,668.2"/><polyline fill="none" stroke="#000" stroke-linecap="round" stroke-linejoin="round" stroke-width="2.1" points="1366.6,656.6 1369.8,654.4"/><polyline fill="none" stroke="#000" stroke-linecap="round" stroke-linejoin="round" stroke-width="1.9" points="1374,659.7 1379.3,665 1378.3,668.2 1373,672.4"/><polyline fill="none" stroke="#000" stroke-linecap="round" stroke-linejoin="round" stroke-width="1.6" points="1391,686.2 1397.3,690.4"/><polyline fill="none" stroke="#000" stroke-linecap="round" stroke-linejoin="round" stroke-width="1.9" points="1404.7,689.3 1414.2,686.7"/><polyline fill="none" stroke="#000" stroke-linecap="round" stroke-linejoin="round" stroke-width="1.9" points="1410,698.9 1414.2,702"/><polyline fill="none" stroke="#000" stroke-linecap="round" stroke-linejoin="round" stroke-width="2.3" points="1426.9,695.7 1431.2,691.5 1438.6,689.3 1443.9,691.5"/><polyline fill="none" stroke="#000" stroke-linecap="round" stroke-linejoin="round" stroke-width="2.1" points="1497.8,664 1503.1,656.6 1505,656.6"/><polyline fill="none" stroke="#000" stroke-linecap="round" stroke-linejoin="round" stroke-width="1.9" points="1501,660.8 1505,670.3"/><circle cx="1467.1" cy="575.1" r="1.6"/><circle cx="1356.1" cy="614.2" r="1.1"/><circle cx="1360.3" cy="614.8" r="1.1"/><circle cx="1367.9" cy="615.5" r="1.9"/><circle cx="1379.3" cy="616.9" r="0.8"/><circle cx="1396.8" cy="617.9" r="2.6"/><circle cx="1389.9" cy="689.3" r="2.8"/><circle cx="1432.2" cy="681.4" r="1"/><path d="M1426.9 706.1 L1431.2 705 L1439.6 705 L1440.2 709.8 L1436.5 710.3 L1433.3 708.2 L1429 707.6Z M1424.3 720.9 L1429.6 720.9 L1427.5 724.6Z M1418.5 757.4 L1422.7 754.7 L1422.7 749.4 L1425.3 750.5 L1428 756.8 L1423.8 757.9 L1420.6 758.9Z"/><path fill-rule="evenodd" d="M1469.2 772.7 L1472.4 766.4 L1477.7 763.2 L1481.9 762.1 L1487.2 764.2 L1492.5 765.3 L1496.7 768.5 L1505 770.6 L1505 776.9 L1497.8 779 L1495.7 781.2 L1492.5 779 L1488.3 776.9 L1481.9 778 L1476.7 779 L1475.6 783.3 L1473.5 779 L1470.3 778Z M1473.5 770.6 L1478.8 767.4 L1483 768.5 L1485.1 773.8 L1480.9 775.9 L1474.5 775.9Z M1487.2 769.5 L1491.5 769.5 L1491.5 773.8 L1487.2 773.8Z"/><path fill-rule="evenodd" d="M1465 830.9 L1467.1 826.7 L1471.4 827.7 L1476.7 828.8 L1481.9 829.8 L1487.2 828.8 L1492.5 831.9 L1497.8 833 L1505 831.9 L1505 855 L1461.8 855 L1462.9 842.5 L1465 838.3Z M1476.7 838.3 L1481.9 838.3 L1481.9 842.5 L1476.7 842.5Z M1486.2 844.6 L1491.5 844.6 L1491.5 848.9 L1486.2 848.9Z M1469.2 847.8 L1473.5 847.8 L1473.5 852 L1469.2 852Z"/><polyline fill="none" stroke="#000" stroke-linecap="round" stroke-linejoin="round" stroke-width="2.1" points="1412.1,713.5 1415.3,709.2 1417.4,710.3"/><polyline fill="none" stroke="#000" stroke-linecap="round" stroke-linejoin="round" stroke-width="1.6" points="1441.7,726.2 1443.9,730.4 1441.7,735.7"/><polyline fill="none" stroke="#000" stroke-linecap="round" stroke-linejoin="round" stroke-width="2.3" points="1450.7,733.6 1455,729.3"/><polyline fill="none" stroke="#000" stroke-linecap="round" stroke-linejoin="round" stroke-width="1.6" points="1476.7,743.6 1483,745.2"/><polyline fill="none" stroke="#000" stroke-linecap="round" stroke-linejoin="round" stroke-width="1.1" points="1464.5,766.4 1466.1,768.5"/><polyline fill="none" stroke="#000" stroke-linecap="round" stroke-linejoin="round" stroke-width="2.3" points="1444.9,840.4 1447,844.6 1450.2,846.7"/><polyline fill="none" stroke="#000" stroke-linecap="round" stroke-linejoin="round" stroke-width="2.1" points="1355.5,718.8 1357.1,728.3"/><circle cx="1490.4" cy="788.6" r="1.1"/><path d="M1469.2 855 L1505 855 L1505 873 L1499.9 874 L1496.7 869.8 L1490.4 866.6 L1481.9 868.8 L1474.5 871.9 L1469.2 874Z M1355 916.4 L1361.3 915.3 L1367.7 913.2 L1368.8 920.6 L1367.7 929 L1355 929Z M1498.9 926.9 L1505 920.6 L1505 937.5 L1501 939.6Z M1362.4 960.8 L1366.6 955.5 L1371.9 952.3 L1376.2 953.4 L1379.3 958.7 L1380.4 962.9 L1383.6 967.1 L1382.5 971.4 L1378.3 972.4 L1373 975.6 L1369.8 973.5 L1367.7 969.2 L1363.5 967.1Z M1355 984.1 L1361.3 985.1 L1368.8 986.2 L1370.9 988.3 L1365.6 993.6 L1363.5 998.9 L1362.4 1005 L1355 1005Z M1417.4 996.7 L1423.8 994.6 L1435.4 995.7 L1433.3 1002 L1423.8 1003.1 L1418.5 1001Z M1455.5 996.7 L1467.1 995.7 L1469.2 1001 L1467.1 1005 L1458.7 1005Z M1477.7 1003.1 L1487.2 1002 L1488.3 1005 L1477.7 1005Z"/><path fill-rule="evenodd" d="M1373 905.8 L1376.2 900.5 L1380.4 904.7 L1384.6 907.9 L1388.9 912.1 L1394.1 915.3 L1395.2 920.6 L1393.1 924.8 L1391 929 L1389.9 933.3 L1384.6 933.3 L1381.4 931.2 L1380.4 926.9 L1378.3 920.6 L1378.3 914.2 L1374 908.9Z M1383.6 917.4 L1387.8 917.4 L1387.8 921.6 L1383.6 921.6Z"/><path fill-rule="evenodd" d="M1416.4 910 L1420.6 902.6 L1424.8 898.4 L1431.2 899.4 L1435.4 901.5 L1436.5 914.2 L1435.4 929 L1431.2 932.2 L1423.8 931.2 L1417.4 929 L1415.3 922.7 L1417.4 916.4Z M1420.6 910 L1424.8 905.8 L1431.2 907.9 L1433.3 918.5 L1429 926.9 L1422.7 924.8 L1419.5 918.5Z"/><path fill-rule="evenodd" d="M1437.5 899.4 L1441.7 896.3 L1446 897.3 L1450.2 902.6 L1454.4 901.5 L1460.8 900.5 L1467.1 901.5 L1471.4 902.6 L1467.1 907.9 L1462.9 905.8 L1456.6 905.8 L1451.3 910 L1452.3 915.3 L1456.6 920.6 L1457.6 926.9 L1453.4 931.2 L1448.1 933.3 L1444.9 938.6 L1441.7 935.4 L1437.5 933.3 L1436.5 922.7 L1438.6 916.4Z M1439.6 902.6 L1444.9 902.6 L1444.9 911.1 L1439.6 911.1Z M1441.7 922.7 L1446 922.7 L1446 928 L1441.7 928Z"/><path fill-rule="evenodd" d="M1467.1 922.7 L1470.3 916.4 L1476.7 913.2 L1481.9 912.1 L1487.2 914.2 L1491.5 913.2 L1492.5 918.5 L1495.7 923.8 L1496.7 931.2 L1494.6 935.4 L1495.7 941.7 L1493.6 948.1 L1488.3 951.3 L1481.9 950.2 L1476.7 947 L1472.4 944.9 L1469.2 939.6 L1465 937.5 L1460.8 943.9 L1457.6 946 L1459.7 939.6 L1464 935.4 L1464 929Z M1470.3 931.2 L1475.6 928 L1479.8 932.2 L1476.7 939.6 L1471.4 939.6Z M1478.8 920.6 L1484.1 918.5 L1488.3 922.7 L1485.1 926.9 L1479.8 925.9Z M1480.9 935.4 L1488.3 933.3 L1491.5 939.6 L1486.2 946 L1479.8 943.9Z"/><path fill-rule="evenodd" d="M1366.6 941.7 L1370.9 937.5 L1376.2 935.4 L1382.5 936.5 L1386.7 933.3 L1393.1 937.5 L1395.2 942.8 L1391 947 L1388.9 952.3 L1385.7 954.4 L1382.5 950.2 L1378.3 948.1 L1375.1 950.2 L1370.9 949.1Z M1374 940.7 L1379.3 940.7 L1379.3 944.9 L1374 944.9Z"/><path fill-rule="evenodd" d="M1426.9 987.2 L1431.2 984.1 L1437.5 979.8 L1439.6 973.5 L1438.6 970.3 L1443.9 969.2 L1448.1 971.4 L1453.4 969.2 L1458.7 966.1 L1465 962.9 L1469.2 958.7 L1474.5 959.7 L1481.9 962.9 L1486.2 967.1 L1488.3 971.4 L1485.1 977.7 L1481.9 983 L1479.8 988.3 L1477.7 993.6 L1469.2 994.6 L1458.7 993.6 L1448.1 993.6 L1439.6 992.5 L1431.2 991.5Z M1467.1 971.4 L1471.4 970.3 L1469.2 979.8 L1465 981.9Z M1431.2 984.1 L1436.5 984.1 L1436.5 988.3 L1431.2 988.3Z M1458.7 984.1 L1462.9 984.1 L1462.9 988.3 L1458.7 988.3Z"/><polyline fill="none" stroke="#000" stroke-linecap="round" stroke-linejoin="round" stroke-width="3.2" points="1450.2,859.2 1452.3,865.6 1451.3,869.8"/><polyline fill="none" stroke="#000" stroke-linecap="round" stroke-linejoin="round" stroke-width="2.6" points="1454.4,858.2 1460.8,857.1 1465,858.2"/><polyline fill="none" stroke="#000" stroke-linecap="round" stroke-linejoin="round" stroke-width="2.1" points="1456.6,863.5 1460.8,865.6 1462.9,862.4"/><polyline fill="none" stroke="#000" stroke-linecap="round" stroke-linejoin="round" stroke-width="2.6" points="1457.6,874 1460.8,876.2"/><polyline fill="none" stroke="#000" stroke-linecap="round" stroke-linejoin="round" stroke-width="1.6" points="1462.9,870.9 1465,871.9"/><polyline fill="none" stroke="#000" stroke-linecap="round" stroke-linejoin="round" stroke-width="2.1" points="1364.5,889.9 1365.6,891.5"/><polyline fill="none" stroke="#000" stroke-linecap="round" stroke-linejoin="round" stroke-width="1.9" points="1383.6,893.1 1386.7,892.6"/><circle cx="1440.7" cy="860.3" r="1.5"/><circle cx="1428" cy="874" r="1.3"/><circle cx="1428" cy="868.8" r="0.8"/><circle cx="1374" cy="892" r="1.5"/><circle cx="1398.4" cy="906.8" r="1.1"/><circle cx="1394.1" cy="901.5" r="0.8"/><circle cx="1357.1" cy="913.2" r="1.3"/><circle cx="1431.2" cy="957.6" r="1.1"/><circle cx="1439.6" cy="954.4" r="1.3"/><circle cx="1448.1" cy="956.6" r="1.1"/><circle cx="1479.8" cy="907.9" r="1.1"/><circle cx="1381.4" cy="987.2" r="1.1"/><path d="M1355 1005 L1361.6 1005 L1365.9 1013.7 L1369.2 1022.5 L1368.1 1026.9 L1362.7 1029.1 L1357.2 1033.4 L1355 1034.5Z M1385.6 1015.9 L1388.9 1009.4 L1394.4 1011.6 L1398.7 1017 L1405.3 1018.1 L1414 1014.8 L1422.8 1012.7 L1429.3 1011.6 L1426.1 1005 L1470.9 1005 L1475.3 1011.6 L1476.4 1017 L1470.9 1020.3 L1464.3 1024.7 L1460 1026.9 L1453.4 1025.8 L1446.8 1026.9 L1440.3 1028 L1433.7 1028 L1425 1026.9 L1420.6 1025.8 L1416.2 1024.7 L1411.9 1022.5 L1407.5 1019.2 L1400.9 1020.3 L1396.5 1018.1 L1390 1017Z M1446.8 1085.9 L1450.1 1084.8 L1455.6 1090.3 L1460 1093.6 L1453.4 1095.7 L1450.1 1099 L1449 1094.7Z M1454.5 1108.9 L1460 1104.5 L1463.2 1105.6 L1468.7 1110 L1464.3 1110 L1462.1 1114.3 L1462.1 1119.8 L1460 1124.2 L1457.8 1120.9 L1456.7 1115.4 L1457.8 1112.1 L1455.6 1111Z M1419.5 1125.3 L1425 1123.1 L1431.5 1120.9 L1433.7 1123.1 L1429.3 1129.6 L1423.9 1136.2 L1421.7 1132.9Z M1391.1 1125.3 L1396.5 1120.9 L1400.9 1123.1 L1405.3 1126.4 L1409.7 1128.5 L1412.9 1131.8 L1416.2 1136.2 L1420.6 1140.6 L1422.8 1143.8 L1418.4 1147.1 L1414 1149.3 L1409.7 1150.4 L1404.2 1149.3 L1400.9 1147.1 L1399.8 1142.8 L1398.7 1137.3 L1396.5 1131.8 L1395.5 1127.4 L1392.2 1126.4Z M1433.7 1142.8 L1438.1 1140.6 L1441.4 1135.1 L1444.7 1137.3 L1446.8 1139.5 L1451.2 1139.5 L1456.7 1140.6 L1455.6 1143.8 L1450.1 1146 L1446.8 1148.2 L1442.5 1151.5 L1438.1 1149.3 L1434.8 1147.1Z"/><path fill-rule="evenodd" d="M1365.9 1044.4 L1370.3 1040 L1372.5 1034.5 L1376.9 1031.2 L1381.2 1025.8 L1386.7 1026.9 L1392.2 1030.1 L1396.5 1033.4 L1399.8 1038.9 L1398.7 1043.3 L1394.4 1046.5 L1390 1046.5 L1385.6 1049.8 L1381.2 1050.9 L1376.9 1048.7 L1372.5 1053.1 L1367 1055.3 L1363.7 1052Z M1378 1036.7 L1383.4 1035.6 L1384.5 1041.1 L1379.1 1042.2Z"/><path fill-rule="evenodd" d="M1407.5 1044.4 L1411.9 1041.1 L1417.3 1042.2 L1422.8 1044.4 L1423.9 1050.9 L1421.7 1056.4 L1417.3 1055.3 L1414 1052 L1409.7 1049.8Z M1414 1046.5 L1418.4 1046.5 L1418.4 1050.9 L1414 1050.9Z"/><path fill-rule="evenodd" d="M1430.4 1048.7 L1433.7 1045.5 L1438.1 1044.4 L1442.5 1045.5 L1449 1048.7 L1453.4 1046.5 L1457.8 1044.4 L1461 1043.3 L1465.4 1042.2 L1470.9 1040 L1475.3 1042.2 L1480.7 1047.6 L1485.1 1053.1 L1486.2 1058.6 L1490.6 1062.9 L1491.7 1066.2 L1486.2 1068.4 L1486.2 1076.1 L1489.5 1085.9 L1480.7 1083.7 L1474.2 1084.8 L1473.1 1088.1 L1470.9 1083.7 L1470.9 1077.2 L1465.4 1073.9 L1463.2 1079.3 L1458.9 1078.3 L1457.8 1072.8 L1453.4 1066.2 L1449 1062.9 L1444.7 1059.7 L1440.3 1056.4 L1435.9 1053.1 L1431.5 1052Z M1467.6 1061.9 L1473.1 1060.8 L1474.2 1065.1 L1468.7 1066.2Z"/><polyline fill="none" stroke="#000" stroke-linecap="round" stroke-linejoin="round" stroke-width="2.7" points="1355,1046.5 1359.4,1047.6 1363.7,1045.5"/><polyline fill="none" stroke="#000" stroke-linecap="round" stroke-linejoin="round" stroke-width="2.2" points="1359.4,1054.2 1363.7,1052 1370.3,1050.9"/><polyline fill="none" stroke="#000" stroke-linecap="round" stroke-linejoin="round" stroke-width="2.7" points="1364.8,1060.8 1369.2,1059.7"/><polyline fill="none" stroke="#000" stroke-linecap="round" stroke-linejoin="round" stroke-width="2.7" points="1397.6,1052 1399.8,1047.6 1403.1,1047.6"/><polyline fill="none" stroke="#000" stroke-linecap="round" stroke-linejoin="round" stroke-width="2.7" points="1427.2,1035.6 1431.5,1033.4 1434.8,1031.2 1438.1,1030.1"/><polyline fill="none" stroke="#000" stroke-linecap="round" stroke-linejoin="round" stroke-width="2.2" points="1431.5,1040 1435.9,1038.9 1440.3,1037.8 1445.7,1036.7 1451.2,1037.8 1453.4,1038.9"/><polyline fill="none" stroke="#000" stroke-linecap="round" stroke-linejoin="round" stroke-width="2.2" points="1431.5,1043.3 1433.7,1046.5"/><polyline fill="none" stroke="#000" stroke-linecap="round" stroke-linejoin="round" stroke-width="2.7" points="1468.7,1101.2 1470.9,1096.8 1474.2,1095.7 1477.4,1097.9"/><polyline fill="none" stroke="#000" stroke-linecap="round" stroke-linejoin="round" stroke-width="3.3" points="1447.9,1118.7 1449,1113.2 1450.1,1107.8"/><polyline fill="none" stroke="#000" stroke-linecap="round" stroke-linejoin="round" stroke-width="3.3" points="1431.5,1119.8 1433.7,1114.3 1433.7,1110"/><polyline fill="none" stroke="#000" stroke-linecap="round" stroke-linejoin="round" stroke-width="2.2" points="1470.9,1132.9 1473.1,1135.1 1474.2,1139.5"/><polyline fill="none" stroke="#000" stroke-linecap="round" stroke-linejoin="round" stroke-width="2.2" points="1480.7,1147.1 1482.9,1150.4 1486.2,1152.6"/><polyline fill="none" stroke="#000" stroke-linecap="round" stroke-linejoin="round" stroke-width="2.2" points="1488.4,1032.3 1491.7,1033.4"/><polyline fill="none" stroke="#000" stroke-linecap="round" stroke-linejoin="round" stroke-width="2.4" points="1492.8,1040 1497.1,1044.4"/><polyline fill="none" stroke="#000" stroke-linecap="round" stroke-linejoin="round" stroke-width="2.7" points="1496,1026.9 1499.3,1030.1"/><polyline fill="none" stroke="#000" stroke-linecap="round" stroke-linejoin="round" stroke-width="2.7" points="1501.5,1070.6 1505,1068.4"/><polyline fill="none" stroke="#000" stroke-linecap="round" stroke-linejoin="round" stroke-width="4.4" points="1494.9,1008.3 1505,1007.2"/><polyline fill="none" stroke="#000" stroke-linecap="round" stroke-linejoin="round" stroke-width="2.7" points="1497.1,1135.1 1501.5,1139.5 1503.7,1142.8"/><polyline fill="none" stroke="#000" stroke-linecap="round" stroke-linejoin="round" stroke-width="3.3" points="1503.7,1125.3 1505,1126.4"/><circle cx="1381.2" cy="1059.1" r="1.1"/><circle cx="1463.2" cy="1036.7" r="1.5"/><circle cx="1426.1" cy="1031.2" r="1.1"/><circle cx="1395.5" cy="1141.7" r="2"/><circle cx="1397.6" cy="1151" r="1.3"/><circle cx="1463.2" cy="1137.3" r="1.3"/><path d="M1557.9 628 L1562.1 626.9 L1568.5 629.1 L1579.1 636.5 L1572.7 638.6 L1564.2 642.8 L1560 640.7 L1558.4 635.4Z M1519.8 574 L1524 571.4 L1528.8 575.1 L1530.4 579.3 L1527.2 580.4 L1524 578.3 L1521.9 577.2Z M1536.7 593.1 L1539.9 593.1 L1542 599.4 L1545.2 603.7 L1543.1 607.9 L1546.3 612.1 L1549.4 615.3 L1553.7 617.4 L1554.7 622.7 L1554.7 629.1 L1550.5 628 L1548.4 622.7 L1545.2 618.5 L1541 616.4 L1536.7 612.1 L1531.5 610 L1530.9 607.9 L1535.7 605.8 L1533 601.6 L1534.6 597.3Z M1529.3 676.7 L1532.5 673.5 L1534.6 669.3 L1538.9 668.2 L1539.4 672.4 L1536.7 676.7 L1537.3 682 L1535.2 684.1 L1533 678.8 L1528.8 678.3Z M1606.6 705 L1612.9 701 L1617.2 692.5 L1621.4 685.1 L1623.5 684.1 L1625.6 692.5 L1628.8 705Z"/><path fill-rule="evenodd" d="M1583.3 559.8 L1596 559.8 L1598.1 565.6 L1598.6 573 L1596 575.1 L1592.8 576.2 L1591.8 579.3 L1598.1 579.3 L1601.3 582.5 L1606.6 585.7 L1609.2 588.9 L1606.6 593.1 L1607.6 599.4 L1609.7 605.8 L1617.2 606.8 L1621.4 605.8 L1621.4 610 L1615 611.1 L1610.8 613.2 L1608.7 617.4 L1609.7 621.7 L1604.5 623.8 L1599.2 629.1 L1596 636.5 L1592.8 637.5 L1590.7 635.4 L1589.6 631.2 L1585.4 629.1 L1579.1 624.8 L1572.7 622.7 L1568.5 622.7 L1564.2 623.8 L1560 622.7 L1555.8 619.5 L1557.9 618.5 L1564.2 617.4 L1568.5 616.4 L1567.4 605.8 L1568.5 599.4 L1566.4 595.2 L1568.5 591 L1568.5 584.6 L1566.9 577.2 L1566.4 573 L1570.6 570.9 L1576.9 569.8 L1581.2 567.7 L1583.3 563.5Z M1582.8 575.6 L1589.6 575.3 L1591.5 579.5 L1590.5 585.9 L1588.4 589.1 L1583.5 589.1 L1581.4 582.7Z"/><path fill-rule="evenodd" d="M1634.1 676.7 L1640.4 675.6 L1646.8 672.4 L1649.9 674.6 L1655.2 676.7 L1655.2 705 L1635.1 705 L1636.2 697.8 L1634.6 692.5 L1637.3 687.3 L1636.2 682Z M1638.5 692.5 L1641.5 690.4 L1643.6 695.7 L1642.5 702.6 L1639.2 702.1Z"/><polyline fill="none" stroke="#000" stroke-linecap="round" stroke-linejoin="round" stroke-width="1.6" points="1525.1,584.6 1532.5,581.5 1536.7,586.7 1537.8,591"/><polyline fill="none" stroke="#000" stroke-linecap="round" stroke-linejoin="round" stroke-width="2.3" points="1626.7,591 1632,586.7 1636.7,586.2"/><polyline fill="none" stroke="#000" stroke-linecap="round" stroke-linejoin="round" stroke-width="2.1" points="1646.8,592 1651,594.1 1654.7,599.4"/><polyline fill="none" stroke="#000" stroke-linecap="round" stroke-linejoin="round" stroke-width="1.5" points="1547.3,666.1 1551.6,664"/><polyline fill="none" stroke="#000" stroke-linecap="round" stroke-linejoin="round" stroke-width="1.6" points="1505,669.3 1509.2,676.7 1511.3,680.9"/><polyline fill="none" stroke="#000" stroke-linecap="round" stroke-linejoin="round" stroke-width="1.5" points="1515.6,689.4 1518.8,686.2"/><circle cx="1611.9" cy="571.4" r="2.6"/><circle cx="1634.1" cy="568.8" r="1.3"/><circle cx="1639.9" cy="564" r="1.5"/><circle cx="1635.7" cy="607.9" r="1.1"/><circle cx="1602.9" cy="632.2" r="1.1"/><circle cx="1538.9" cy="641.8" r="2.3"/><circle cx="1577.5" cy="659.2" r="1.9"/><circle cx="1520.9" cy="664" r="1.6"/><circle cx="1534.1" cy="662.9" r="1.3"/><circle cx="1542" cy="686.2" r="1.1"/><circle cx="1525.1" cy="691.5" r="0.8"/><circle cx="1526.2" cy="704.2" r="1.3"/><path d="M1592.8 742 L1597 741 L1600.2 744.1 L1598.1 749.4 L1593.9 748.4Z M1599.2 763.2 L1604.5 760 L1608.7 756.8 L1610.8 754.7 L1615 757.9 L1619.3 762.1 L1622.4 765.3 L1620.3 770.6 L1619.3 775.9 L1616.1 772.7 L1614 767.4 L1609.7 766.4 L1605.5 767.4 L1602.3 768.5 L1600.2 766.4Z M1636.2 779.1 L1642.5 776.9 L1647.8 784.4 L1644.7 787.5 L1640.4 792.8 L1638.3 788.6 L1635.1 785.4Z M1568.5 811.9 L1572.7 808.7 L1579.1 807.6 L1584.4 810.8 L1588.6 814 L1590.7 817.2 L1589.6 821.4 L1586.5 823.5 L1581.2 825.6 L1574.8 825.6 L1572.7 821.4 L1570.6 817.2Z M1590.7 821.4 L1594.9 814 L1598.1 821.4 L1602.3 826.7 L1608.7 823.5 L1611.9 822.4 L1617.2 827.7 L1621.4 830.9 L1619.3 836.2 L1615 838.3 L1609.7 835.1 L1606.6 833 L1602.3 832 L1597 834.1 L1592.8 833 L1590.7 829.8Z M1622.4 840.4 L1626.7 838.3 L1630.9 842.5 L1632 847.8 L1628.8 855 L1622.4 855Z M1549.4 754.7 L1554.7 751.6 L1557.9 754.7 L1555.8 759 L1552.6 760Z M1505 772.7 L1509.2 769.5 L1510.3 764.2 L1512.4 766.4 L1513.5 771.7 L1517.7 773.8 L1518.8 776.9 L1514.5 778 L1511.3 775.9 L1507.1 774.8Z"/><path fill-rule="evenodd" d="M1605.5 705 L1621.4 705 L1624.6 707.1 L1632 705 L1655.2 705 L1655.2 713.5 L1645.7 711.3 L1641.5 714.5 L1640.4 720.9 L1642.5 726.2 L1640.4 732.5 L1638.3 737.8 L1635.1 741 L1632 739.9 L1624.6 736.7 L1621.4 739.9 L1617.2 737.8 L1610.8 739.9 L1607.6 738.9 L1608.7 732.5 L1607.6 724 L1606.6 715.6Z M1614.5 711.3 L1619.3 710.3 L1619.8 721.9 L1615 723Z M1615 727.2 L1620.3 727.2 L1620.3 732.5 L1615 732.5Z M1628.8 713.5 L1639.4 711.3 L1639.4 719.8 L1632 725.1 L1627.7 721.9Z"/><path fill-rule="evenodd" d="M1642.5 755.8 L1646.8 749.4 L1649.9 745.2 L1655.2 745.2 L1655.2 770.6 L1651 769.5 L1645.7 771.7 L1641.5 770.6 L1643.6 764.2Z M1646.8 755.8 L1652.1 755.8 L1652.1 764.2 L1646.8 764.2Z"/><path fill-rule="evenodd" d="M1564.2 774.8 L1568.5 772.7 L1573.8 776.9 L1579.1 781.2 L1584.4 783.3 L1586.5 789.6 L1585.4 796 L1581.2 800.2 L1579.1 804.5 L1575.9 800.2 L1572.7 797 L1571.7 789.6 L1570.6 783.3 L1566.4 779.1Z M1576.9 788.6 L1582.2 788.6 L1582.2 794.9 L1576.9 794.9Z"/><polyline fill="none" stroke="#000" stroke-linecap="round" stroke-linejoin="round" stroke-width="2.6" points="1634.1,739.9 1635.1,747.3 1639.4,752.6 1641.5,754.7"/><polyline fill="none" stroke="#000" stroke-linecap="round" stroke-linejoin="round" stroke-width="2.6" points="1583.3,742 1589.6,741.5 1594.9,743.1 1600.2,745.2 1606.6,745.2 1609.7,742"/><polyline fill="none" stroke="#000" stroke-linecap="round" stroke-linejoin="round" stroke-width="1.6" points="1583.3,748.4 1589.6,748.4"/><polyline fill="none" stroke="#000" stroke-linecap="round" stroke-linejoin="round" stroke-width="2.6" points="1623.5,770.6 1627.7,769.5 1633,771.7 1635.1,776.9 1630.9,780.1 1625.6,779.1 1623.5,774.8"/><polyline fill="none" stroke="#000" stroke-linecap="round" stroke-linejoin="round" stroke-width="2.1" points="1630.9,794.9 1635.1,791.8"/><polyline fill="none" stroke="#000" stroke-linecap="round" stroke-linejoin="round" stroke-width="1.9" points="1618.2,794.9 1620.3,799.2"/><polyline fill="none" stroke="#000" stroke-linecap="round" stroke-linejoin="round" stroke-width="2.6" points="1600.2,785.4 1606.6,789.6"/><polyline fill="none" stroke="#000" stroke-linecap="round" stroke-linejoin="round" stroke-width="2.6" points="1614,852.1 1619.3,848.9"/><polyline fill="none" stroke="#000" stroke-linecap="round" stroke-linejoin="round" stroke-width="2.3" points="1641.5,826.7 1643.6,832"/><polyline fill="none" stroke="#000" stroke-linecap="round" stroke-linejoin="round" stroke-width="1.1" points="1644.7,822.4 1647.8,823"/><polyline fill="none" stroke="#000" stroke-linecap="round" stroke-linejoin="round" stroke-width="3.2" points="1512.4,713.5 1517.7,713.5 1523,716.6 1525.1,720.9 1526.2,724"/><polyline fill="none" stroke="#000" stroke-linecap="round" stroke-linejoin="round" stroke-width="1.6" points="1511.3,729.3 1514.5,728.3"/><polyline fill="none" stroke="#000" stroke-linecap="round" stroke-linejoin="round" stroke-width="1.9" points="1519.8,730.9 1521.9,732"/><polyline fill="none" stroke="#000" stroke-linecap="round" stroke-linejoin="round" stroke-width="2.6" points="1526.2,732.5 1527.2,741"/><polyline fill="none" stroke="#000" stroke-linecap="round" stroke-linejoin="round" stroke-width="2.1" points="1531.5,734.6 1532.5,743.1"/><polyline fill="none" stroke="#000" stroke-linecap="round" stroke-linejoin="round" stroke-width="2.3" points="1538.9,735.7 1543.1,738.9 1546.3,741 1545.2,743.1 1548.4,745.2"/><polyline fill="none" stroke="#000" stroke-linecap="round" stroke-linejoin="round" stroke-width="3.2" points="1521.9,824.6 1528.3,827.7 1532.5,828.8 1536.7,830.9"/><polyline fill="none" stroke="#000" stroke-linecap="round" stroke-linejoin="round" stroke-width="2.6" points="1524,705 1527.2,708.2"/><polyline fill="none" stroke="#000" stroke-linecap="round" stroke-linejoin="round" stroke-width="1.6" points="1538.9,853.1 1544.1,855"/><circle cx="1553.1" cy="781.2" r="1.1"/><circle cx="1555.3" cy="788.6" r="1.3"/><circle cx="1544.7" cy="808.7" r="1.3"/><circle cx="1544.1" cy="805" r="0.8"/><circle cx="1534.6" cy="839.9" r="1.1"/><circle cx="1525.1" cy="837.3" r="0.8"/><circle cx="1562.1" cy="799.2" r="0.8"/><path d="M1596 907.9 L1600.2 905.8 L1606.6 903.7 L1608.7 897.3 L1611.9 895.2 L1616.1 897.3 L1619.3 900.5 L1616.1 904.7 L1615 910 L1610.8 912.1 L1606.6 912.1 L1602.3 914.2 L1598.1 916.4 L1596 913.2Z M1567.4 905.8 L1571.7 901.6 L1574.8 904.7 L1572.7 909 L1568.5 908.4Z M1580.1 911.1 L1585.4 907.9 L1589.6 910 L1590.7 914.2 L1587.5 918.5 L1584.4 922.7 L1582.2 918.5Z M1532.5 912.1 L1538.9 911.1 L1545.2 914.2 L1544.1 917.4 L1538.9 918.5 L1535.7 920.6 L1533 916.4Z M1505 924.8 L1509.2 925.9 L1512.4 930.1 L1509.2 933.3 L1505 935.4Z M1580.1 936.5 L1583.3 938.6 L1583.3 943.9 L1581.2 948.1 L1582.2 952.3 L1579.1 954.5 L1575.9 952.3 L1575.9 948.1 L1579.1 943.9Z M1517.7 1005 L1521.9 999.9 L1527.2 998.9 L1528.3 1005Z"/><path fill-rule="evenodd" d="M1597 937.5 L1600.2 933.3 L1606.6 931.2 L1610.8 929.1 L1608.7 922.7 L1610.8 917.4 L1615 913.2 L1621.4 914.2 L1626.7 914.2 L1632 909 L1637.3 901.6 L1642.5 897.3 L1647.8 896.3 L1655.2 901.6 L1655.2 941.8 L1651 942.8 L1642.5 947 L1638.3 951.3 L1641.5 952.3 L1647.8 951.3 L1655.2 952.3 L1655.2 967.2 L1647.8 966.1 L1641.5 969.3 L1639.4 974.6 L1635.1 973.5 L1630.9 976.7 L1627.7 977.7 L1624.6 972.4 L1621.4 974.6 L1617.2 969.3 L1616.1 961.9 L1612.9 956.6 L1611.9 948.1 L1609.7 941.8 L1605.5 939.6 L1600.2 941.8Z M1636.2 956.6 L1641.5 956.6 L1641.5 961.9 L1636.2 961.9Z M1646.8 902.6 L1649.9 902.6 L1649.9 906.8 L1646.8 906.8Z M1646.8 911.1 L1649.4 911.1 L1649.4 914.2 L1646.8 914.2Z M1629.8 966.1 L1634.1 966.1 L1634.1 970.3 L1629.8 970.3Z"/><path fill-rule="evenodd" d="M1574.8 888.9 L1579.1 884.6 L1585.4 882.5 L1590.7 884.6 L1593.9 888.9 L1594.9 897.3 L1592.8 901.6 L1588.6 903.7 L1583.3 902.6 L1579.1 904.7 L1576.9 900.5 L1578 895.2 L1574.8 893.1Z M1585.4 893.1 L1589.6 893.1 L1589.6 897.3 L1585.4 897.3Z"/><path fill-rule="evenodd" d="M1507.1 888.9 L1511.3 884.6 L1516.6 881.5 L1521.9 880.4 L1525.1 883.6 L1527.2 889.9 L1528.3 899.4 L1527.2 907.9 L1526.2 913.2 L1523 910 L1519.8 904.7 L1515.6 901.6 L1511.3 901.6 L1507.1 900.5Z M1517.7 886.7 L1521.9 885.7 L1523 892 L1518.8 893.1Z M1511.3 895.2 L1515.6 894.1 L1515.6 898.4 L1511.3 898.4Z"/><path fill-rule="evenodd" d="M1532.5 881.5 L1536.7 876.2 L1539.9 878.3 L1543.1 882.5 L1547.3 885.7 L1550.5 893.1 L1546.3 896.3 L1541 899.4 L1534.6 898.4 L1531.5 894.1 L1532.5 887.8Z M1536.7 883.6 L1541 883.6 L1541 888.9 L1536.7 888.9Z"/><path fill-rule="evenodd" d="M1527.2 976.7 L1532.5 976.7 L1536.7 979.8 L1542 982 L1547.3 979.8 L1553.7 982 L1557.9 985.1 L1564.2 986.2 L1570.6 990.4 L1579.1 992.5 L1585.4 991.5 L1591.8 994.7 L1596 992.5 L1600.2 989.4 L1604.5 986.2 L1608.7 984.1 L1615 986.2 L1620.3 985.1 L1622.4 989.4 L1619.3 992.5 L1617.2 1005 L1536.7 1005 L1534.6 1001 L1531.5 992.5 L1528.3 986.2Z M1539.9 986.2 L1545.2 986.2 L1545.2 991.5 L1539.9 991.5Z M1549.4 990.4 L1554.7 990.4 L1554.7 995.7 L1549.4 995.7Z M1564.2 995.7 L1570.6 995.7 L1570.6 999.9 L1564.2 999.9Z M1574.8 996.8 L1581.2 996.8 L1581.2 1001 L1574.8 1001Z M1585.4 997.8 L1589.6 997.8 L1589.6 1002.1 L1585.4 1002.1Z M1604.5 989.4 L1609.7 989.4 L1609.7 994.7 L1604.5 994.7Z M1608.7 996.8 L1612.9 996.8 L1612.9 1002.1 L1608.7 1002.1Z"/><polyline fill="none" stroke="#000" stroke-linecap="round" stroke-linejoin="round" stroke-width="3.2" points="1570.6,876.2 1574.8,873 1578,875.1 1576.9,880.4 1576.9,884.6"/><polyline fill="none" stroke="#000" stroke-linecap="round" stroke-linejoin="round" stroke-width="2.1" points="1594.9,918.5 1594.9,922.7"/><polyline fill="none" stroke="#000" stroke-linecap="round" stroke-linejoin="round" stroke-width="2.6" points="1597,891 1598.1,899.4 1596,905.8"/><polyline fill="none" stroke="#000" stroke-linecap="round" stroke-linejoin="round" stroke-width="3.2" points="1529.3,920.6 1532.5,924.8"/><polyline fill="none" stroke="#000" stroke-linecap="round" stroke-linejoin="round" stroke-width="3.2" points="1541,930.1 1547.3,928 1550.5,926.9"/><polyline fill="none" stroke="#000" stroke-linecap="round" stroke-linejoin="round" stroke-width="2.6" points="1544.1,855 1550.5,861.3"/><polyline fill="none" stroke="#000" stroke-linecap="round" stroke-linejoin="round" stroke-width="2.6" points="1543.1,868.8 1545.2,873"/><polyline fill="none" stroke="#000" stroke-linecap="round" stroke-linejoin="round" stroke-width="2.1" points="1505,865.6 1509.2,864.5"/><polyline fill="none" stroke="#000" stroke-linecap="round" stroke-linejoin="round" stroke-width="1.6" points="1505,859.2 1507.1,858.2"/><polyline fill="none" stroke="#000" stroke-linecap="round" stroke-linejoin="round" stroke-width="2.6" points="1564.2,940.7 1566.4,944.9 1568.5,948.1"/><polyline fill="none" stroke="#000" stroke-linecap="round" stroke-linejoin="round" stroke-width="3.2" points="1512.4,957.6 1516.6,960.8 1519.8,965 1524,967.2 1526.2,966.1"/><polyline fill="none" stroke="#000" stroke-linecap="round" stroke-linejoin="round" stroke-width="2.6" points="1517.7,969.3 1516.6,974.6 1517.7,978.8"/><polyline fill="none" stroke="#000" stroke-linecap="round" stroke-linejoin="round" stroke-width="3.2" points="1505,997.8 1509.2,1001 1511.3,1005"/><polyline fill="none" stroke="#000" stroke-linecap="round" stroke-linejoin="round" stroke-width="2.6" points="1624.6,979.8 1628.8,975.6"/><polyline fill="none" stroke="#000" stroke-linecap="round" stroke-linejoin="round" stroke-width="2.6" points="1629.8,859.2 1635.1,861.3 1639.4,863.5"/><circle cx="1513.5" cy="859.8" r="1.1"/><circle cx="1526.2" cy="865.1" r="1.1"/><circle cx="1618.2" cy="857.1" r="1.1"/><circle cx="1625.6" cy="865.1" r="0.8"/><path d="M1505 1005 L1526.9 1005 L1525.8 1010.5 L1518.1 1013.7 L1509.4 1014.8 L1505 1012.7Z M1561.8 1005 L1592.4 1005 L1591.4 1011.6 L1585.9 1014.8 L1579.3 1013.7 L1572.8 1012.7 L1566.2 1011.6 L1561.8 1009.4Z M1594.6 1005 L1624.1 1005 L1624.1 1011.6 L1618.7 1013.7 L1613.2 1011.6 L1606.7 1010.5 L1600.1 1011.6 L1595.7 1009.4Z M1507.2 1049.8 L1511.6 1046.5 L1515.9 1045.4 L1522.5 1047.6 L1530.1 1046.5 L1531.2 1050.9 L1528 1054.2 L1522.5 1053.1 L1517 1052 L1511.6 1055.3 L1508.3 1054.2Z M1519.2 1081.5 L1522.5 1075 L1526.9 1070.6 L1530.1 1066.2 L1531.2 1070.6 L1530.1 1079.3 L1529 1088.1 L1531.2 1093.5 L1530.1 1099 L1528 1101.2 L1524.7 1096.8 L1521.4 1092.4 L1518.1 1088.1Z M1541.1 1069.5 L1544.4 1067.3 L1548.7 1070.6 L1552 1071.7 L1548.7 1075 L1545.4 1077.1 L1543.3 1073.9Z M1548.7 1088.1 L1554.2 1085.9 L1559.7 1088.1 L1564 1092.4 L1570.6 1091.4 L1575 1093.5 L1572.8 1099 L1570.6 1103.4 L1571.7 1107.8 L1568.4 1112.1 L1564 1114.3 L1561.8 1109.9 L1558.6 1105.6 L1555.3 1101.2 L1556.4 1096.8 L1553.1 1092.4Z M1602.3 1082.6 L1605.6 1081.5 L1607.8 1083.7 L1608.8 1088.1 L1609.9 1092.4 L1614.3 1094.6 L1618.7 1099 L1620.9 1103.4 L1617.6 1104.5 L1613.2 1101.2 L1608.8 1100.1 L1606.7 1095.7 L1605.6 1090.3Z M1626.3 1097.9 L1636.2 1096.8 L1640.5 1094.6 L1647.1 1095.7 L1650.4 1099 L1649.3 1102.3 L1644.9 1103.4 L1640.5 1101.2 L1636.2 1100.1 L1626.3 1100.1Z"/><path fill-rule="evenodd" d="M1532.3 1005 L1559.7 1005 L1560.7 1015.9 L1559.7 1026.9 L1558.6 1037.8 L1556.4 1044.4 L1552 1045.4 L1549.8 1041.1 L1546.5 1036.7 L1543.3 1034.5 L1542.2 1029 L1537.8 1026.9 L1535.6 1021.4 L1533.4 1013.7Z M1537.8 1014.8 L1543.3 1014.8 L1543.3 1019.2 L1537.8 1019.2Z M1546.5 1024.7 L1552 1024.7 L1552 1029 L1546.5 1029Z"/><path fill-rule="evenodd" d="M1564 1026.9 L1568.4 1022.5 L1572.8 1024.7 L1570.6 1030.1 L1575 1033.4 L1579.3 1031.2 L1581.5 1024.7 L1585.9 1021.4 L1588.1 1026.9 L1591.4 1030.1 L1594.6 1029 L1601.2 1028 L1605.6 1032.3 L1606.7 1037.8 L1602.3 1042.2 L1596.8 1043.3 L1592.4 1044.4 L1594.6 1048.7 L1599 1052 L1603.4 1057.5 L1612.1 1056.4 L1615.4 1055.3 L1613.2 1059.7 L1607.8 1062.9 L1603.4 1065.1 L1599 1066.2 L1597.9 1070.6 L1593.5 1069.5 L1591.4 1066.2 L1588.1 1070.6 L1583.7 1068.4 L1579.3 1067.3 L1575 1070.6 L1572.8 1075 L1570.6 1081.5 L1568.4 1075 L1569.5 1069.5 L1566.2 1066.2 L1562.9 1064 L1564 1057.5 L1565.1 1052 L1570.6 1048.7 L1576.1 1046.5 L1581.5 1044.4 L1584.8 1037.8 L1581.5 1033.4 L1576.1 1037.8 L1569.5 1036.7 L1566.2 1033.4Z M1583.7 1050.9 L1590.3 1049.8 L1591.4 1056.4 L1584.8 1057.5Z"/><polyline fill="none" stroke="#000" stroke-linecap="round" stroke-linejoin="round" stroke-width="2.7" points="1505,1018.1 1509.4,1022.5"/><polyline fill="none" stroke="#000" stroke-linecap="round" stroke-linejoin="round" stroke-width="2.2" points="1608.8,1011 1612.1,1018.1 1614.9,1025.8"/><polyline fill="none" stroke="#000" stroke-linecap="round" stroke-linejoin="round" stroke-width="1.6" points="1618.7,1014.8 1622,1017"/><polyline fill="none" stroke="#000" stroke-linecap="round" stroke-linejoin="round" stroke-width="1.1" points="1522.5,1042.2 1526.9,1040"/><polyline fill="none" stroke="#000" stroke-linecap="round" stroke-linejoin="round" stroke-width="3.3" points="1505,1061.8 1509.4,1059.7"/><polyline fill="none" stroke="#000" stroke-linecap="round" stroke-linejoin="round" stroke-width="2.2" points="1505,1069.5 1506.1,1067.3"/><polyline fill="none" stroke="#000" stroke-linecap="round" stroke-linejoin="round" stroke-width="2.7" points="1509.4,1084.8 1513.7,1089.2"/><polyline fill="none" stroke="#000" stroke-linecap="round" stroke-linejoin="round" stroke-width="2.2" points="1535.6,1111 1540,1106.7"/><polyline fill="none" stroke="#000" stroke-linecap="round" stroke-linejoin="round" stroke-width="2.7" points="1519.2,1119.8 1522.5,1116.5 1525.8,1114.3"/><polyline fill="none" stroke="#000" stroke-linecap="round" stroke-linejoin="round" stroke-width="1.6" points="1581.5,1109.9 1582.6,1113.2"/><polyline fill="none" stroke="#000" stroke-linecap="round" stroke-linejoin="round" stroke-width="2" points="1585.9,1108.8 1588.1,1109.9"/><polyline fill="none" stroke="#000" stroke-linecap="round" stroke-linejoin="round" stroke-width="1.1" points="1579.3,1103.4 1581.5,1104.5"/><polyline fill="none" stroke="#000" stroke-linecap="round" stroke-linejoin="round" stroke-width="1.6" points="1597.9,1103.4 1601.2,1107.8"/><polyline fill="none" stroke="#000" stroke-linecap="round" stroke-linejoin="round" stroke-width="1.6" points="1597.9,1113.2 1601.2,1114.3"/><polyline fill="none" stroke="#000" stroke-linecap="round" stroke-linejoin="round" stroke-width="2.2" points="1609.9,1113.2 1607.8,1116.5 1606.7,1119.8"/><polyline fill="none" stroke="#000" stroke-linecap="round" stroke-linejoin="round" stroke-width="1.6" points="1625.2,1080.4 1627.4,1083.7"/><polyline fill="none" stroke="#000" stroke-linecap="round" stroke-linejoin="round" stroke-width="1.6" points="1625.2,1108.8 1628.5,1111"/><polyline fill="none" stroke="#000" stroke-linecap="round" stroke-linejoin="round" stroke-width="2.2" points="1622,1103.4 1622,1114.3 1625.2,1120.9"/><polyline fill="none" stroke="#000" stroke-linecap="round" stroke-linejoin="round" stroke-width="2.7" points="1602.3,1119.8 1606.7,1122 1612.1,1125.2"/><polyline fill="none" stroke="#000" stroke-linecap="round" stroke-linejoin="round" stroke-width="3.8" points="1522.5,1125.2 1525.8,1129.6 1526.9,1134 1529,1136.2"/><polyline fill="none" stroke="#000" stroke-linecap="round" stroke-linejoin="round" stroke-width="2.7" points="1509.4,1129.6 1512.7,1131.8"/><polyline fill="none" stroke="#000" stroke-linecap="round" stroke-linejoin="round" stroke-width="2.2" points="1530.1,1138.4 1532.3,1143.8"/><polyline fill="none" stroke="#000" stroke-linecap="round" stroke-linejoin="round" stroke-width="3.3" points="1513.7,1147.1 1518.1,1147.1 1523.6,1147.1"/><polyline fill="none" stroke="#000" stroke-linecap="round" stroke-linejoin="round" stroke-width="2.2" points="1509.4,1149.3 1511.6,1148.2"/><polyline fill="none" stroke="#000" stroke-linecap="round" stroke-linejoin="round" stroke-width="3.3" points="1540,1146 1542.2,1149.3 1544.4,1151.5"/><polyline fill="none" stroke="#000" stroke-linecap="round" stroke-linejoin="round" stroke-width="2" points="1549.8,1124.1 1553.1,1123.1"/><polyline fill="none" stroke="#000" stroke-linecap="round" stroke-linejoin="round" stroke-width="3.3" points="1561.8,1140.5 1566.2,1136.2 1568.4,1134"/><polyline fill="none" stroke="#000" stroke-linecap="round" stroke-linejoin="round" stroke-width="2.7" points="1570.6,1137.3 1575,1136.2"/><polyline fill="none" stroke="#000" stroke-linecap="round" stroke-linejoin="round" stroke-width="2.7" points="1575,1129.6 1579.3,1132.9 1581.5,1135.1"/><polyline fill="none" stroke="#000" stroke-linecap="round" stroke-linejoin="round" stroke-width="4.9" points="1585.9,1124.1 1588.1,1130.7 1589.2,1136.2 1590.3,1141.6"/><polyline fill="none" stroke="#000" stroke-linecap="round" stroke-linejoin="round" stroke-width="3.8" points="1590.3,1141.6 1583.7,1144.9 1577.1,1147.1"/><polyline fill="none" stroke="#000" stroke-linecap="round" stroke-linejoin="round" stroke-width="3.8" points="1590.3,1141.6 1595.7,1146 1597.9,1150.4"/><polyline fill="none" stroke="#000" stroke-linecap="round" stroke-linejoin="round" stroke-width="3.8" points="1614.3,1149.3 1620.9,1146 1627.4,1143.8 1632.9,1144.9 1639.4,1149.3"/><polyline fill="none" stroke="#000" stroke-linecap="round" stroke-linejoin="round" stroke-width="2.4" points="1617.6,1135.1 1620.9,1136.2 1626.3,1135.1"/><polyline fill="none" stroke="#000" stroke-linecap="round" stroke-linejoin="round" stroke-width="1.6" points="1596.8,1126.3 1599,1125.2"/><polyline fill="none" stroke="#000" stroke-linecap="round" stroke-linejoin="round" stroke-width="2.7" points="1651.5,1143.8 1652.6,1149.3 1651.5,1152.6"/><circle cx="1518.1" cy="1046" r="1.3"/><circle cx="1577.1" cy="1115.4" r="1.5"/></g>
<g fill="#000"><line x1="1158.3" y1="1099.6" x2="1158.0" y2="1101.9" stroke="#000" stroke-width="1.4" stroke-linecap="round"/><ellipse cx="1106.3" cy="1121.4" rx="1.1" ry="0.6" transform="rotate(16 1106.3 1121.4)"/><ellipse cx="1177.8" cy="1140.0" rx="0.9" ry="1.0" transform="rotate(171 1177.8 1140.0)"/><line x1="1208.5" y1="1114.5" x2="1206.6" y2="1115.5" stroke="#000" stroke-width="1.3" stroke-linecap="round"/><ellipse cx="1123.1" cy="1098.8" rx="1.4" ry="0.7" transform="rotate(105 1123.1 1098.8)"/><ellipse cx="1219.6" cy="1113.6" rx="0.8" ry="0.6" transform="rotate(37 1219.6 1113.6)"/><ellipse cx="1227.7" cy="1116.8" rx="1.2" ry="0.9" transform="rotate(54 1227.7 1116.8)"/><ellipse cx="1249.9" cy="1132.5" rx="1.2" ry="1.0" transform="rotate(158 1249.9 1132.5)"/><line x1="1236.9" y1="1107.6" x2="1237.5" y2="1109.8" stroke="#000" stroke-width="1.6" stroke-linecap="round"/><ellipse cx="1124.6" cy="1120.4" rx="1.3" ry="1.1" transform="rotate(103 1124.6 1120.4)"/><line x1="1266.2" y1="1108.4" x2="1265.2" y2="1112.0" stroke="#000" stroke-width="1.4" stroke-linecap="round"/><ellipse cx="1258.8" cy="1146.8" rx="1.3" ry="0.6" transform="rotate(126 1258.8 1146.8)"/><line x1="1220.7" y1="1148.3" x2="1221.7" y2="1150.9" stroke="#000" stroke-width="1.6" stroke-linecap="round"/><ellipse cx="1099.4" cy="1118.8" rx="0.8" ry="0.6" transform="rotate(138 1099.4 1118.8)"/><ellipse cx="1120.2" cy="1106.4" rx="1.5" ry="0.7" transform="rotate(81 1120.2 1106.4)"/><line x1="1200.7" y1="1141.5" x2="1203.6" y2="1145.0" stroke="#000" stroke-width="1.4" stroke-linecap="round"/><line x1="1163.9" y1="1142.6" x2="1166.0" y2="1143.9" stroke="#000" stroke-width="1.3" stroke-linecap="round"/><ellipse cx="1140.5" cy="1120.1" rx="0.9" ry="0.6" transform="rotate(75 1140.5 1120.1)"/><line x1="1167.1" y1="1122.8" x2="1166.9" y2="1126.9" stroke="#000" stroke-width="1.5" stroke-linecap="round"/><line x1="1228.9" y1="1094.3" x2="1224.9" y2="1096.0" stroke="#000" stroke-width="1.7" stroke-linecap="round"/><ellipse cx="1171.5" cy="1115.1" rx="1.3" ry="0.6" transform="rotate(12 1171.5 1115.1)"/><ellipse cx="1135.7" cy="1101.4" rx="0.7" ry="0.6" transform="rotate(27 1135.7 1101.4)"/><ellipse cx="1114.8" cy="1113.1" rx="1.5" ry="1.0" transform="rotate(27 1114.8 1113.1)"/><ellipse cx="1144.2" cy="1112.1" rx="0.8" ry="1.2" transform="rotate(179 1144.2 1112.1)"/><ellipse cx="1185.9" cy="1120.1" rx="0.8" ry="0.8" transform="rotate(48 1185.9 1120.1)"/><ellipse cx="1256.6" cy="1101.4" rx="1.6" ry="1.0" transform="rotate(26 1256.6 1101.4)"/><ellipse cx="1200.9" cy="1093.6" rx="1.6" ry="1.2" transform="rotate(125 1200.9 1093.6)"/><ellipse cx="1145.9" cy="1113.3" rx="1.4" ry="1.0" transform="rotate(140 1145.9 1113.3)"/><line x1="1161.5" y1="1103.8" x2="1157.1" y2="1106.0" stroke="#000" stroke-width="1.7" stroke-linecap="round"/><ellipse cx="1254.6" cy="1134.9" rx="1.2" ry="0.8" transform="rotate(5 1254.6 1134.9)"/><ellipse cx="1100.4" cy="1108.2" rx="1.3" ry="1.3" transform="rotate(81 1100.4 1108.2)"/><line x1="1276.5" y1="1148.3" x2="1278.9" y2="1150.3" stroke="#000" stroke-width="1.3" stroke-linecap="round"/><line x1="1135.4" y1="1102.7" x2="1131.3" y2="1105.0" stroke="#000" stroke-width="1.4" stroke-linecap="round"/><ellipse cx="1222.3" cy="1138.4" rx="1.3" ry="1.2" transform="rotate(141 1222.3 1138.4)"/><ellipse cx="1241.3" cy="1119.7" rx="1.4" ry="0.8" transform="rotate(144 1241.3 1119.7)"/><ellipse cx="1284.5" cy="1115.0" rx="1.6" ry="1.1" transform="rotate(31 1284.5 1115.0)"/><line x1="1117.8" y1="1099.8" x2="1121.8" y2="1101.7" stroke="#000" stroke-width="1.7" stroke-linecap="round"/><ellipse cx="1286.2" cy="1130.1" rx="1.2" ry="0.7" transform="rotate(3 1286.2 1130.1)"/><ellipse cx="1284.3" cy="1129.7" rx="1.5" ry="0.9" transform="rotate(157 1284.3 1129.7)"/><ellipse cx="1256.1" cy="1104.2" rx="1.0" ry="0.8" transform="rotate(106 1256.1 1104.2)"/><ellipse cx="1145.6" cy="1116.3" rx="1.5" ry="0.8" transform="rotate(82 1145.6 1116.3)"/><ellipse cx="1208.8" cy="1144.4" rx="1.5" ry="1.0" transform="rotate(96 1208.8 1144.4)"/><ellipse cx="1197.1" cy="1093.1" rx="0.9" ry="0.6" transform="rotate(144 1197.1 1093.1)"/><line x1="1127.7" y1="1117.9" x2="1129.6" y2="1121.0" stroke="#000" stroke-width="1.5" stroke-linecap="round"/><ellipse cx="1203.3" cy="1137.5" rx="1.2" ry="0.8" transform="rotate(50 1203.3 1137.5)"/><ellipse cx="1245.6" cy="1121.4" rx="1.4" ry="1.2" transform="rotate(80 1245.6 1121.4)"/><ellipse cx="1214.4" cy="1121.3" rx="1.3" ry="0.9" transform="rotate(96 1214.4 1121.3)"/><line x1="1190.5" y1="1146.2" x2="1185.9" y2="1147.0" stroke="#000" stroke-width="1.3" stroke-linecap="round"/><line x1="1203.0" y1="1146.3" x2="1205.2" y2="1147.2" stroke="#000" stroke-width="1.4" stroke-linecap="round"/><ellipse cx="1109.1" cy="1106.0" rx="1.3" ry="1.1" transform="rotate(161 1109.1 1106.0)"/><line x1="1126.3" y1="1133.1" x2="1124.0" y2="1134.0" stroke="#000" stroke-width="1.8" stroke-linecap="round"/><ellipse cx="1137.8" cy="1147.2" rx="1.1" ry="1.3" transform="rotate(150 1137.8 1147.2)"/><ellipse cx="1126.5" cy="1117.0" rx="1.0" ry="0.7" transform="rotate(57 1126.5 1117.0)"/><ellipse cx="1235.8" cy="1093.1" rx="1.1" ry="0.6" transform="rotate(60 1235.8 1093.1)"/><ellipse cx="1216.7" cy="1121.7" rx="1.6" ry="1.2" transform="rotate(175 1216.7 1121.7)"/><ellipse cx="1115.4" cy="1107.4" rx="1.4" ry="0.8" transform="rotate(23 1115.4 1107.4)"/><line x1="1176.1" y1="1144.2" x2="1178.6" y2="1145.5" stroke="#000" stroke-width="1.7" stroke-linecap="round"/><ellipse cx="1206.3" cy="1132.6" rx="0.8" ry="1.1" transform="rotate(77 1206.3 1132.6)"/><line x1="1107.0" y1="1145.9" x2="1111.2" y2="1147.0" stroke="#000" stroke-width="1.7" stroke-linecap="round"/><ellipse cx="1108.0" cy="1142.0" rx="1.0" ry="1.0" transform="rotate(167 1108.0 1142.0)"/><ellipse cx="1147.2" cy="1099.5" rx="0.9" ry="0.7" transform="rotate(29 1147.2 1099.5)"/><ellipse cx="1104.8" cy="1103.7" rx="1.0" ry="1.1" transform="rotate(52 1104.8 1103.7)"/><ellipse cx="1192.5" cy="1102.3" rx="0.7" ry="0.8" transform="rotate(3 1192.5 1102.3)"/><ellipse cx="1238.0" cy="1124.0" rx="1.1" ry="1.3" transform="rotate(19 1238.0 1124.0)"/><ellipse cx="1254.7" cy="1117.1" rx="1.5" ry="0.9" transform="rotate(91 1254.7 1117.1)"/><ellipse cx="1229.1" cy="1149.0" rx="1.4" ry="1.1" transform="rotate(114 1229.1 1149.0)"/><ellipse cx="1173.9" cy="1112.2" rx="0.8" ry="0.6" transform="rotate(133 1173.9 1112.2)"/><ellipse cx="1144.8" cy="1101.5" rx="1.5" ry="1.2" transform="rotate(121 1144.8 1101.5)"/><ellipse cx="1150.0" cy="1106.0" rx="1.1" ry="0.7" transform="rotate(80 1150.0 1106.0)"/><line x1="1145.0" y1="1146.5" x2="1147.6" y2="1149.0" stroke="#000" stroke-width="1.8" stroke-linecap="round"/><ellipse cx="1155.4" cy="1112.7" rx="1.0" ry="0.9" transform="rotate(90 1155.4 1112.7)"/><ellipse cx="1134.2" cy="1121.3" rx="0.9" ry="0.7" transform="rotate(72 1134.2 1121.3)"/><ellipse cx="1103.1" cy="1093.3" rx="0.9" ry="1.0" transform="rotate(95 1103.1 1093.3)"/><line x1="1240.6" y1="1128.0" x2="1242.1" y2="1132.3" stroke="#000" stroke-width="1.3" stroke-linecap="round"/><line x1="1285.1" y1="1100.4" x2="1289.0" y2="1100.9" stroke="#000" stroke-width="1.7" stroke-linecap="round"/><line x1="1266.9" y1="1127.4" x2="1270.9" y2="1129.3" stroke="#000" stroke-width="1.5" stroke-linecap="round"/><line x1="1193.9" y1="1138.3" x2="1192.8" y2="1142.6" stroke="#000" stroke-width="1.7" stroke-linecap="round"/><ellipse cx="1228.2" cy="1132.2" rx="0.7" ry="0.7" transform="rotate(65 1228.2 1132.2)"/><ellipse cx="1115.5" cy="1140.5" rx="1.3" ry="1.0" transform="rotate(123 1115.5 1140.5)"/><line x1="1190.4" y1="1090.1" x2="1190.4" y2="1094.3" stroke="#000" stroke-width="1.5" stroke-linecap="round"/><line x1="1222.2" y1="1095.5" x2="1224.9" y2="1096.2" stroke="#000" stroke-width="1.3" stroke-linecap="round"/><line x1="1237.2" y1="1101.4" x2="1237.3" y2="1106.4" stroke="#000" stroke-width="1.4" stroke-linecap="round"/><line x1="1189.2" y1="1129.9" x2="1187.6" y2="1133.4" stroke="#000" stroke-width="1.2" stroke-linecap="round"/><line x1="1124.1" y1="1105.3" x2="1123.4" y2="1108.2" stroke="#000" stroke-width="1.1" stroke-linecap="round"/><line x1="1107.9" y1="1105.9" x2="1105.8" y2="1109.3" stroke="#000" stroke-width="1.3" stroke-linecap="round"/><ellipse cx="1195.7" cy="1119.0" rx="0.8" ry="1.2" transform="rotate(36 1195.7 1119.0)"/><ellipse cx="1285.7" cy="1146.3" rx="1.1" ry="1.2" transform="rotate(174 1285.7 1146.3)"/><ellipse cx="1182.6" cy="1107.6" rx="1.6" ry="0.7" transform="rotate(105 1182.6 1107.6)"/><line x1="1123.7" y1="1121.8" x2="1121.6" y2="1123.0" stroke="#000" stroke-width="1.5" stroke-linecap="round"/><ellipse cx="1267.9" cy="1132.8" rx="1.5" ry="0.9" transform="rotate(4 1267.9 1132.8)"/><ellipse cx="1095.7" cy="1120.5" rx="1.0" ry="0.7" transform="rotate(62 1095.7 1120.5)"/><ellipse cx="1156.6" cy="1140.7" rx="1.4" ry="1.2" transform="rotate(22 1156.6 1140.7)"/><line x1="1275.1" y1="1132.0" x2="1276.2" y2="1134.7" stroke="#000" stroke-width="1.4" stroke-linecap="round"/><ellipse cx="1289.8" cy="1126.2" rx="1.1" ry="0.8" transform="rotate(9 1289.8 1126.2)"/><ellipse cx="1114.8" cy="1140.4" rx="1.5" ry="0.8" transform="rotate(48 1114.8 1140.4)"/><ellipse cx="1194.6" cy="1103.0" rx="1.6" ry="1.2" transform="rotate(146 1194.6 1103.0)"/><line x1="1219.2" y1="1143.6" x2="1216.9" y2="1146.4" stroke="#000" stroke-width="1.1" stroke-linecap="round"/><line x1="1236.6" y1="1116.6" x2="1239.0" y2="1119.7" stroke="#000" stroke-width="1.1" stroke-linecap="round"/><ellipse cx="1275.7" cy="1099.4" rx="1.0" ry="0.8" transform="rotate(133 1275.7 1099.4)"/><line x1="1285.6" y1="1105.7" x2="1285.1" y2="1108.5" stroke="#000" stroke-width="1.4" stroke-linecap="round"/><ellipse cx="1127.6" cy="1101.4" rx="1.5" ry="0.9" transform="rotate(40 1127.6 1101.4)"/><ellipse cx="1271.7" cy="1149.8" rx="0.8" ry="0.7" transform="rotate(16 1271.7 1149.8)"/><ellipse cx="1161.7" cy="1097.3" rx="0.9" ry="1.0" transform="rotate(160 1161.7 1097.3)"/><ellipse cx="1241.2" cy="1115.9" rx="1.2" ry="0.9" transform="rotate(61 1241.2 1115.9)"/><line x1="1107.1" y1="1106.9" x2="1107.1" y2="1109.3" stroke="#000" stroke-width="1.5" stroke-linecap="round"/><ellipse cx="1263.3" cy="1104.5" rx="0.9" ry="0.9" transform="rotate(80 1263.3 1104.5)"/><line x1="1280.0" y1="1141.1" x2="1282.0" y2="1141.3" stroke="#000" stroke-width="1.6" stroke-linecap="round"/><ellipse cx="1269.7" cy="1119.4" rx="0.7" ry="0.9" transform="rotate(167 1269.7 1119.4)"/><line x1="1254.7" y1="1141.2" x2="1257.3" y2="1142.1" stroke="#000" stroke-width="1.2" stroke-linecap="round"/><line x1="1197.8" y1="1129.7" x2="1195.9" y2="1133.4" stroke="#000" stroke-width="1.6" stroke-linecap="round"/><ellipse cx="1105.7" cy="1016.4" rx="1.4" ry="0.8" transform="rotate(166 1105.7 1016.4)"/><ellipse cx="1124.6" cy="997.8" rx="0.9" ry="1.0" transform="rotate(126 1124.6 997.8)"/><ellipse cx="1071.2" cy="980.3" rx="1.2" ry="0.9" transform="rotate(40 1071.2 980.3)"/><ellipse cx="1120.1" cy="975.8" rx="1.1" ry="1.3" transform="rotate(116 1120.1 975.8)"/><ellipse cx="1148.4" cy="1010.6" rx="0.9" ry="1.3" transform="rotate(127 1148.4 1010.6)"/><ellipse cx="1090.7" cy="976.6" rx="1.3" ry="0.9" transform="rotate(46 1090.7 976.6)"/><ellipse cx="1126.7" cy="1044.4" rx="0.7" ry="0.8" transform="rotate(76 1126.7 1044.4)"/><line x1="1128.3" y1="987.7" x2="1128.2" y2="992.0" stroke="#000" stroke-width="1.2" stroke-linecap="round"/><line x1="1156.0" y1="997.5" x2="1158.0" y2="999.2" stroke="#000" stroke-width="1.6" stroke-linecap="round"/><ellipse cx="1089.5" cy="1046.4" rx="0.9" ry="0.8" transform="rotate(75 1089.5 1046.4)"/><ellipse cx="1126.5" cy="1046.2" rx="1.1" ry="0.7" transform="rotate(175 1126.5 1046.2)"/><ellipse cx="1074.2" cy="978.9" rx="1.1" ry="1.2" transform="rotate(159 1074.2 978.9)"/><line x1="1132.0" y1="1049.0" x2="1134.5" y2="1050.6" stroke="#000" stroke-width="1.8" stroke-linecap="round"/><line x1="1134.0" y1="975.9" x2="1135.2" y2="978.8" stroke="#000" stroke-width="1.3" stroke-linecap="round"/><ellipse cx="1076.9" cy="975.2" rx="1.0" ry="1.3" transform="rotate(22 1076.9 975.2)"/><ellipse cx="1156.4" cy="990.6" rx="1.4" ry="1.2" transform="rotate(78 1156.4 990.6)"/><ellipse cx="1064.9" cy="1010.5" rx="1.5" ry="0.7" transform="rotate(66 1064.9 1010.5)"/><ellipse cx="1149.7" cy="977.3" rx="1.4" ry="1.1" transform="rotate(7 1149.7 977.3)"/><line x1="1064.5" y1="978.7" x2="1062.5" y2="980.7" stroke="#000" stroke-width="1.7" stroke-linecap="round"/><line x1="1092.6" y1="994.0" x2="1095.2" y2="996.8" stroke="#000" stroke-width="1.6" stroke-linecap="round"/><ellipse cx="1091.6" cy="995.7" rx="1.4" ry="1.2" transform="rotate(114 1091.6 995.7)"/><ellipse cx="1154.3" cy="976.8" rx="1.1" ry="1.3" transform="rotate(172 1154.3 976.8)"/><ellipse cx="1098.7" cy="993.8" rx="1.1" ry="1.2" transform="rotate(33 1098.7 993.8)"/><line x1="1141.0" y1="1028.3" x2="1139.5" y2="1032.4" stroke="#000" stroke-width="1.3" stroke-linecap="round"/><line x1="1091.0" y1="1001.5" x2="1092.9" y2="1002.8" stroke="#000" stroke-width="1.6" stroke-linecap="round"/><ellipse cx="1084.7" cy="979.9" rx="1.2" ry="0.8" transform="rotate(176 1084.7 979.9)"/><ellipse cx="1148.3" cy="1049.1" rx="0.8" ry="0.7" transform="rotate(90 1148.3 1049.1)"/><ellipse cx="1131.0" cy="1008.5" rx="1.1" ry="1.0" transform="rotate(121 1131.0 1008.5)"/><line x1="1135.8" y1="1038.0" x2="1133.8" y2="1039.1" stroke="#000" stroke-width="1.3" stroke-linecap="round"/><line x1="1115.8" y1="1002.1" x2="1117.6" y2="1003.9" stroke="#000" stroke-width="1.3" stroke-linecap="round"/><ellipse cx="1075.3" cy="1041.3" rx="1.0" ry="0.9" transform="rotate(179 1075.3 1041.3)"/><line x1="1112.7" y1="992.3" x2="1108.8" y2="992.4" stroke="#000" stroke-width="1.2" stroke-linecap="round"/><line x1="1105.1" y1="1036.1" x2="1109.8" y2="1036.7" stroke="#000" stroke-width="1.3" stroke-linecap="round"/><line x1="1073.8" y1="988.8" x2="1070.1" y2="989.6" stroke="#000" stroke-width="1.4" stroke-linecap="round"/><ellipse cx="1146.6" cy="1008.7" rx="1.4" ry="1.3" transform="rotate(19 1146.6 1008.7)"/><ellipse cx="1119.6" cy="1021.5" rx="1.0" ry="0.7" transform="rotate(37 1119.6 1021.5)"/><line x1="1084.2" y1="1019.9" x2="1086.8" y2="1020.0" stroke="#000" stroke-width="1.3" stroke-linecap="round"/><ellipse cx="1127.8" cy="988.9" rx="0.9" ry="1.2" transform="rotate(99 1127.8 988.9)"/><ellipse cx="1066.3" cy="982.6" rx="1.2" ry="1.0" transform="rotate(16 1066.3 982.6)"/><ellipse cx="1076.4" cy="1027.2" rx="1.0" ry="0.8" transform="rotate(172 1076.4 1027.2)"/><ellipse cx="1091.2" cy="1017.5" rx="1.1" ry="1.2" transform="rotate(179 1091.2 1017.5)"/><line x1="1095.1" y1="989.8" x2="1097.7" y2="989.8" stroke="#000" stroke-width="1.7" stroke-linecap="round"/><ellipse cx="1102.4" cy="1036.5" rx="1.5" ry="0.9" transform="rotate(29 1102.4 1036.5)"/><line x1="1059.2" y1="1015.7" x2="1063.8" y2="1017.0" stroke="#000" stroke-width="1.5" stroke-linecap="round"/><ellipse cx="1097.1" cy="1012.8" rx="1.0" ry="1.0" transform="rotate(167 1097.1 1012.8)"/><line x1="1231.2" y1="817.4" x2="1235.2" y2="820.3" stroke="#000" stroke-width="1.2" stroke-linecap="round"/><ellipse cx="1295.7" cy="877.1" rx="0.7" ry="1.2" transform="rotate(70 1295.7 877.1)"/><line x1="1293.8" y1="833.7" x2="1291.8" y2="835.2" stroke="#000" stroke-width="1.3" stroke-linecap="round"/><line x1="1254.3" y1="860.8" x2="1256.3" y2="862.4" stroke="#000" stroke-width="1.4" stroke-linecap="round"/><ellipse cx="1263.8" cy="806.0" rx="0.9" ry="1.1" transform="rotate(162 1263.8 806.0)"/><line x1="1229.0" y1="827.0" x2="1227.2" y2="828.0" stroke="#000" stroke-width="1.2" stroke-linecap="round"/><line x1="1269.6" y1="824.6" x2="1270.3" y2="827.4" stroke="#000" stroke-width="1.5" stroke-linecap="round"/><ellipse cx="1256.9" cy="839.1" rx="1.1" ry="0.6" transform="rotate(111 1256.9 839.1)"/><line x1="1261.4" y1="786.1" x2="1262.0" y2="790.4" stroke="#000" stroke-width="1.2" stroke-linecap="round"/><ellipse cx="1260.5" cy="772.8" rx="1.1" ry="0.7" transform="rotate(80 1260.5 772.8)"/><line x1="1264.0" y1="764.1" x2="1262.5" y2="765.7" stroke="#000" stroke-width="1.6" stroke-linecap="round"/><ellipse cx="1263.4" cy="766.5" rx="1.0" ry="1.3" transform="rotate(25 1263.4 766.5)"/><line x1="1287.5" y1="878.3" x2="1291.1" y2="880.8" stroke="#000" stroke-width="1.8" stroke-linecap="round"/><line x1="1262.9" y1="874.0" x2="1260.9" y2="875.6" stroke="#000" stroke-width="1.8" stroke-linecap="round"/><line x1="1231.1" y1="801.7" x2="1228.7" y2="802.5" stroke="#000" stroke-width="1.3" stroke-linecap="round"/><ellipse cx="1286.2" cy="777.2" rx="1.5" ry="0.7" transform="rotate(47 1286.2 777.2)"/><ellipse cx="1263.0" cy="798.3" rx="0.9" ry="0.7" transform="rotate(169 1263.0 798.3)"/><ellipse cx="1276.0" cy="867.4" rx="1.4" ry="0.7" transform="rotate(96 1276.0 867.4)"/><line x1="1273.2" y1="801.4" x2="1272.3" y2="804.9" stroke="#000" stroke-width="1.7" stroke-linecap="round"/><line x1="1234.1" y1="878.2" x2="1231.6" y2="880.1" stroke="#000" stroke-width="1.3" stroke-linecap="round"/><ellipse cx="1299.3" cy="829.3" rx="1.4" ry="0.9" transform="rotate(32 1299.3 829.3)"/><line x1="1281.4" y1="764.5" x2="1280.2" y2="767.0" stroke="#000" stroke-width="1.8" stroke-linecap="round"/><ellipse cx="1268.9" cy="839.6" rx="0.7" ry="0.6" transform="rotate(27 1268.9 839.6)"/><ellipse cx="1271.2" cy="811.9" rx="1.5" ry="0.7" transform="rotate(41 1271.2 811.9)"/><ellipse cx="1274.0" cy="762.7" rx="1.0" ry="0.7" transform="rotate(64 1274.0 762.7)"/><ellipse cx="1241.8" cy="830.0" rx="0.9" ry="1.0" transform="rotate(85 1241.8 830.0)"/><ellipse cx="1235.1" cy="872.4" rx="0.8" ry="0.7" transform="rotate(115 1235.1 872.4)"/><ellipse cx="1290.3" cy="853.9" rx="0.9" ry="0.6" transform="rotate(116 1290.3 853.9)"/><line x1="1268.8" y1="801.7" x2="1265.5" y2="802.4" stroke="#000" stroke-width="1.6" stroke-linecap="round"/><ellipse cx="1243.6" cy="868.4" rx="1.2" ry="0.9" transform="rotate(43 1243.6 868.4)"/><ellipse cx="1229.4" cy="853.5" rx="1.2" ry="1.3" transform="rotate(26 1229.4 853.5)"/><ellipse cx="1240.0" cy="833.0" rx="1.3" ry="1.2" transform="rotate(31 1240.0 833.0)"/><ellipse cx="1248.2" cy="796.0" rx="1.5" ry="1.1" transform="rotate(129 1248.2 796.0)"/><line x1="1226.6" y1="860.1" x2="1224.3" y2="862.6" stroke="#000" stroke-width="1.4" stroke-linecap="round"/><ellipse cx="1241.9" cy="772.6" rx="0.7" ry="0.8" transform="rotate(135 1241.9 772.6)"/><line x1="1277.4" y1="860.1" x2="1276.9" y2="862.8" stroke="#000" stroke-width="1.4" stroke-linecap="round"/><ellipse cx="1284.1" cy="822.8" rx="1.3" ry="1.3" transform="rotate(39 1284.1 822.8)"/><ellipse cx="1291.0" cy="761.8" rx="0.9" ry="1.1" transform="rotate(170 1291.0 761.8)"/><line x1="1279.9" y1="798.2" x2="1282.1" y2="800.2" stroke="#000" stroke-width="1.7" stroke-linecap="round"/><line x1="1272.1" y1="840.7" x2="1272.5" y2="845.6" stroke="#000" stroke-width="1.7" stroke-linecap="round"/><ellipse cx="1277.3" cy="862.9" rx="1.4" ry="1.0" transform="rotate(55 1277.3 862.9)"/><ellipse cx="1240.9" cy="834.7" rx="1.5" ry="0.7" transform="rotate(5 1240.9 834.7)"/><ellipse cx="1233.0" cy="871.5" rx="0.8" ry="0.6" transform="rotate(7 1233.0 871.5)"/><line x1="1274.9" y1="835.6" x2="1279.0" y2="836.5" stroke="#000" stroke-width="1.5" stroke-linecap="round"/><line x1="1250.0" y1="857.6" x2="1254.5" y2="858.6" stroke="#000" stroke-width="1.7" stroke-linecap="round"/><ellipse cx="1408.9" cy="963.6" rx="0.9" ry="0.7" transform="rotate(6 1408.9 963.6)"/><line x1="1401.1" y1="955.7" x2="1399.3" y2="959.8" stroke="#000" stroke-width="1.3" stroke-linecap="round"/><line x1="1302.3" y1="925.2" x2="1303.7" y2="927.4" stroke="#000" stroke-width="1.4" stroke-linecap="round"/><ellipse cx="1292.7" cy="933.3" rx="1.3" ry="0.9" transform="rotate(58 1292.7 933.3)"/><line x1="1413.4" y1="944.0" x2="1417.2" y2="944.4" stroke="#000" stroke-width="1.4" stroke-linecap="round"/><ellipse cx="1346.7" cy="956.0" rx="1.3" ry="1.0" transform="rotate(39 1346.7 956.0)"/><line x1="1400.8" y1="926.0" x2="1403.3" y2="926.0" stroke="#000" stroke-width="1.2" stroke-linecap="round"/><ellipse cx="1389.1" cy="965.0" rx="1.1" ry="0.9" transform="rotate(143 1389.1 965.0)"/><ellipse cx="1314.0" cy="943.8" rx="1.4" ry="0.8" transform="rotate(170 1314.0 943.8)"/><line x1="1325.2" y1="930.9" x2="1328.5" y2="932.0" stroke="#000" stroke-width="1.5" stroke-linecap="round"/><line x1="1301.4" y1="954.7" x2="1299.7" y2="958.7" stroke="#000" stroke-width="1.3" stroke-linecap="round"/><line x1="1343.2" y1="939.0" x2="1341.1" y2="939.8" stroke="#000" stroke-width="1.1" stroke-linecap="round"/><line x1="1316.1" y1="932.0" x2="1317.4" y2="935.2" stroke="#000" stroke-width="1.7" stroke-linecap="round"/><ellipse cx="1320.4" cy="942.3" rx="1.4" ry="1.1" transform="rotate(116 1320.4 942.3)"/><ellipse cx="1335.3" cy="936.4" rx="1.5" ry="1.1" transform="rotate(134 1335.3 936.4)"/><line x1="1310.3" y1="940.6" x2="1313.8" y2="942.0" stroke="#000" stroke-width="1.4" stroke-linecap="round"/><ellipse cx="1405.1" cy="932.5" rx="1.0" ry="1.1" transform="rotate(152 1405.1 932.5)"/><ellipse cx="1310.1" cy="928.9" rx="1.0" ry="1.0" transform="rotate(29 1310.1 928.9)"/><line x1="1330.7" y1="929.7" x2="1334.6" y2="931.0" stroke="#000" stroke-width="1.8" stroke-linecap="round"/><line x1="1304.7" y1="937.3" x2="1301.7" y2="940.5" stroke="#000" stroke-width="1.4" stroke-linecap="round"/><ellipse cx="1315.5" cy="950.1" rx="0.9" ry="0.9" transform="rotate(6 1315.5 950.1)"/><line x1="1342.6" y1="955.2" x2="1341.2" y2="958.4" stroke="#000" stroke-width="1.4" stroke-linecap="round"/><ellipse cx="1308.4" cy="948.6" rx="1.4" ry="1.2" transform="rotate(77 1308.4 948.6)"/><ellipse cx="1364.6" cy="955.0" rx="0.9" ry="1.1" transform="rotate(158 1364.6 955.0)"/><line x1="1391.5" y1="951.0" x2="1389.8" y2="954.6" stroke="#000" stroke-width="1.4" stroke-linecap="round"/><ellipse cx="1330.7" cy="949.6" rx="1.1" ry="1.1" transform="rotate(128 1330.7 949.6)"/><ellipse cx="1371.8" cy="933.0" rx="1.1" ry="1.0" transform="rotate(74 1371.8 933.0)"/><ellipse cx="1377.8" cy="962.9" rx="1.3" ry="1.1" transform="rotate(70 1377.8 962.9)"/><ellipse cx="1353.7" cy="964.9" rx="1.2" ry="0.7" transform="rotate(141 1353.7 964.9)"/><ellipse cx="1412.3" cy="944.8" rx="1.2" ry="1.0" transform="rotate(129 1412.3 944.8)"/><line x1="1356.1" y1="948.4" x2="1357.1" y2="951.8" stroke="#000" stroke-width="1.8" stroke-linecap="round"/><ellipse cx="1317.3" cy="952.1" rx="1.4" ry="0.7" transform="rotate(177 1317.3 952.1)"/><ellipse cx="1336.2" cy="924.5" rx="1.1" ry="0.6" transform="rotate(75 1336.2 924.5)"/><ellipse cx="1344.7" cy="952.7" rx="0.9" ry="0.8" transform="rotate(133 1344.7 952.7)"/><ellipse cx="1412.2" cy="945.2" rx="1.4" ry="0.9" transform="rotate(38 1412.2 945.2)"/><line x1="1306.6" y1="954.2" x2="1307.0" y2="958.1" stroke="#000" stroke-width="1.5" stroke-linecap="round"/><ellipse cx="1319.4" cy="964.4" rx="1.3" ry="1.2" transform="rotate(147 1319.4 964.4)"/><ellipse cx="1350.9" cy="935.0" rx="0.8" ry="1.2" transform="rotate(64 1350.9 935.0)"/><ellipse cx="1400.6" cy="933.8" rx="0.9" ry="0.9" transform="rotate(33 1400.6 933.8)"/><ellipse cx="1290.4" cy="953.8" rx="0.9" ry="0.8" transform="rotate(86 1290.4 953.8)"/><line x1="1347.2" y1="949.7" x2="1344.2" y2="950.4" stroke="#000" stroke-width="1.7" stroke-linecap="round"/><line x1="1295.5" y1="957.5" x2="1299.4" y2="959.4" stroke="#000" stroke-width="1.7" stroke-linecap="round"/><ellipse cx="1372.3" cy="922.7" rx="1.6" ry="1.1" transform="rotate(45 1372.3 922.7)"/><ellipse cx="1303.2" cy="928.3" rx="1.4" ry="0.8" transform="rotate(27 1303.2 928.3)"/><ellipse cx="1407.5" cy="956.8" rx="1.5" ry="1.0" transform="rotate(141 1407.5 956.8)"/><line x1="1110.0" y1="592.9" x2="1113.6" y2="595.5" stroke="#000" stroke-width="1.6" stroke-linecap="round"/><ellipse cx="1102.2" cy="588.7" rx="1.5" ry="1.0" transform="rotate(48 1102.2 588.7)"/><ellipse cx="1081.4" cy="567.0" rx="0.8" ry="0.9" transform="rotate(26 1081.4 567.0)"/><ellipse cx="1099.4" cy="579.9" rx="1.5" ry="0.6" transform="rotate(151 1099.4 579.9)"/><line x1="1096.9" y1="580.2" x2="1098.6" y2="584.3" stroke="#000" stroke-width="1.4" stroke-linecap="round"/><line x1="1130.3" y1="564.5" x2="1134.2" y2="564.9" stroke="#000" stroke-width="1.5" stroke-linecap="round"/><ellipse cx="1112.8" cy="595.5" rx="1.6" ry="1.0" transform="rotate(87 1112.8 595.5)"/><line x1="1126.9" y1="561.5" x2="1128.8" y2="564.9" stroke="#000" stroke-width="1.7" stroke-linecap="round"/><ellipse cx="1090.6" cy="579.1" rx="1.4" ry="0.7" transform="rotate(78 1090.6 579.1)"/><line x1="1095.8" y1="581.2" x2="1093.3" y2="582.7" stroke="#000" stroke-width="1.4" stroke-linecap="round"/><ellipse cx="1100.3" cy="571.8" rx="1.6" ry="1.1" transform="rotate(143 1100.3 571.8)"/><ellipse cx="1088.2" cy="573.4" rx="1.2" ry="1.0" transform="rotate(141 1088.2 573.4)"/><line x1="1066.0" y1="587.7" x2="1069.6" y2="588.3" stroke="#000" stroke-width="1.3" stroke-linecap="round"/><line x1="1066.3" y1="567.2" x2="1064.5" y2="570.5" stroke="#000" stroke-width="1.7" stroke-linecap="round"/><line x1="1129.8" y1="582.4" x2="1127.6" y2="585.6" stroke="#000" stroke-width="1.5" stroke-linecap="round"/><line x1="1113.9" y1="568.5" x2="1111.4" y2="570.8" stroke="#000" stroke-width="1.2" stroke-linecap="round"/><line x1="1078.8" y1="561.2" x2="1076.6" y2="565.4" stroke="#000" stroke-width="1.4" stroke-linecap="round"/><ellipse cx="1122.6" cy="590.3" rx="0.9" ry="0.8" transform="rotate(76 1122.6 590.3)"/><line x1="1084.9" y1="577.1" x2="1089.7" y2="577.9" stroke="#000" stroke-width="1.5" stroke-linecap="round"/><line x1="1069.6" y1="565.8" x2="1066.0" y2="566.7" stroke="#000" stroke-width="1.4" stroke-linecap="round"/><ellipse cx="1066.0" cy="575.9" rx="1.5" ry="1.3" transform="rotate(86 1066.0 575.9)"/><line x1="1092.7" y1="565.1" x2="1095.0" y2="566.3" stroke="#000" stroke-width="1.1" stroke-linecap="round"/><ellipse cx="1065.3" cy="586.6" rx="1.6" ry="0.7" transform="rotate(157 1065.3 586.6)"/><line x1="1074.9" y1="561.6" x2="1073.1" y2="563.7" stroke="#000" stroke-width="1.2" stroke-linecap="round"/><line x1="1070.0" y1="588.2" x2="1067.0" y2="591.6" stroke="#000" stroke-width="1.2" stroke-linecap="round"/><ellipse cx="1565.8" cy="1133.1" rx="1.5" ry="0.8" transform="rotate(174 1565.8 1133.1)"/><ellipse cx="1586.4" cy="1092.7" rx="1.3" ry="1.2" transform="rotate(14 1586.4 1092.7)"/><ellipse cx="1492.2" cy="1134.3" rx="1.5" ry="0.9" transform="rotate(11 1492.2 1134.3)"/><ellipse cx="1505.3" cy="1125.3" rx="1.3" ry="0.7" transform="rotate(144 1505.3 1125.3)"/><line x1="1503.7" y1="1127.9" x2="1504.8" y2="1130.9" stroke="#000" stroke-width="1.7" stroke-linecap="round"/><ellipse cx="1639.2" cy="1137.5" rx="1.0" ry="0.6" transform="rotate(175 1639.2 1137.5)"/><ellipse cx="1583.2" cy="1140.0" rx="1.2" ry="1.3" transform="rotate(150 1583.2 1140.0)"/><ellipse cx="1559.5" cy="1109.9" rx="1.5" ry="0.9" transform="rotate(123 1559.5 1109.9)"/><line x1="1558.2" y1="1144.0" x2="1561.0" y2="1144.0" stroke="#000" stroke-width="1.3" stroke-linecap="round"/><line x1="1515.7" y1="1125.7" x2="1520.3" y2="1126.3" stroke="#000" stroke-width="1.7" stroke-linecap="round"/><ellipse cx="1608.3" cy="1142.3" rx="0.9" ry="1.2" transform="rotate(145 1608.3 1142.3)"/><ellipse cx="1578.8" cy="1145.0" rx="0.8" ry="1.0" transform="rotate(144 1578.8 1145.0)"/><line x1="1466.9" y1="1134.2" x2="1466.1" y2="1136.8" stroke="#000" stroke-width="1.6" stroke-linecap="round"/><ellipse cx="1528.0" cy="1104.0" rx="1.4" ry="1.2" transform="rotate(83 1528.0 1104.0)"/><line x1="1440.7" y1="1137.5" x2="1440.0" y2="1140.1" stroke="#000" stroke-width="1.7" stroke-linecap="round"/><ellipse cx="1625.3" cy="1122.3" rx="1.2" ry="0.7" transform="rotate(35 1625.3 1122.3)"/><ellipse cx="1461.9" cy="1132.7" rx="1.2" ry="0.9" transform="rotate(93 1461.9 1132.7)"/><line x1="1453.1" y1="1094.1" x2="1456.0" y2="1095.1" stroke="#000" stroke-width="1.5" stroke-linecap="round"/><ellipse cx="1602.7" cy="1101.1" rx="1.0" ry="1.0" transform="rotate(4 1602.7 1101.1)"/><line x1="1428.2" y1="1147.8" x2="1427.4" y2="1151.1" stroke="#000" stroke-width="1.3" stroke-linecap="round"/><line x1="1602.6" y1="1115.5" x2="1599.0" y2="1117.9" stroke="#000" stroke-width="1.8" stroke-linecap="round"/><ellipse cx="1478.9" cy="1094.2" rx="0.9" ry="0.7" transform="rotate(9 1478.9 1094.2)"/><ellipse cx="1549.3" cy="1142.5" rx="1.6" ry="1.2" transform="rotate(12 1549.3 1142.5)"/><ellipse cx="1558.8" cy="1115.0" rx="1.6" ry="0.8" transform="rotate(102 1558.8 1115.0)"/><line x1="1568.4" y1="1145.9" x2="1568.9" y2="1149.0" stroke="#000" stroke-width="1.2" stroke-linecap="round"/><ellipse cx="1644.1" cy="1149.5" rx="0.7" ry="0.8" transform="rotate(63 1644.1 1149.5)"/><line x1="1630.3" y1="1143.8" x2="1628.6" y2="1145.1" stroke="#000" stroke-width="1.6" stroke-linecap="round"/><ellipse cx="1570.0" cy="1149.2" rx="0.8" ry="1.1" transform="rotate(169 1570.0 1149.2)"/><ellipse cx="1577.0" cy="1109.3" rx="1.4" ry="0.7" transform="rotate(58 1577.0 1109.3)"/><ellipse cx="1479.6" cy="1099.2" rx="0.9" ry="0.8" transform="rotate(26 1479.6 1099.2)"/><line x1="1575.9" y1="1092.6" x2="1578.5" y2="1092.9" stroke="#000" stroke-width="1.7" stroke-linecap="round"/><line x1="1469.1" y1="1145.2" x2="1473.3" y2="1147.2" stroke="#000" stroke-width="1.4" stroke-linecap="round"/><line x1="1442.2" y1="1143.9" x2="1442.8" y2="1147.8" stroke="#000" stroke-width="1.3" stroke-linecap="round"/><line x1="1610.0" y1="1118.9" x2="1611.9" y2="1120.5" stroke="#000" stroke-width="1.1" stroke-linecap="round"/><ellipse cx="1585.6" cy="1124.1" rx="1.5" ry="0.8" transform="rotate(74 1585.6 1124.1)"/><line x1="1454.8" y1="1107.0" x2="1457.4" y2="1108.5" stroke="#000" stroke-width="1.4" stroke-linecap="round"/><ellipse cx="1493.8" cy="1144.4" rx="1.6" ry="0.6" transform="rotate(161 1493.8 1144.4)"/><ellipse cx="1575.0" cy="1104.2" rx="1.0" ry="0.8" transform="rotate(36 1575.0 1104.2)"/><line x1="1502.2" y1="1148.8" x2="1506.8" y2="1150.2" stroke="#000" stroke-width="1.3" stroke-linecap="round"/><line x1="1629.4" y1="1095.2" x2="1626.5" y2="1095.4" stroke="#000" stroke-width="1.1" stroke-linecap="round"/><ellipse cx="1607.2" cy="1111.8" rx="0.7" ry="1.2" transform="rotate(95 1607.2 1111.8)"/><line x1="1463.4" y1="1116.0" x2="1462.8" y2="1118.5" stroke="#000" stroke-width="1.2" stroke-linecap="round"/><line x1="1460.5" y1="1136.4" x2="1463.0" y2="1137.0" stroke="#000" stroke-width="1.2" stroke-linecap="round"/><ellipse cx="1561.2" cy="1120.7" rx="0.9" ry="1.0" transform="rotate(127 1561.2 1120.7)"/><ellipse cx="1608.3" cy="1125.8" rx="0.8" ry="1.1" transform="rotate(73 1608.3 1125.8)"/><line x1="1588.7" y1="1094.5" x2="1586.1" y2="1095.9" stroke="#000" stroke-width="1.7" stroke-linecap="round"/><line x1="1536.0" y1="1092.2" x2="1532.8" y2="1093.6" stroke="#000" stroke-width="1.3" stroke-linecap="round"/><ellipse cx="1463.2" cy="1140.2" rx="0.8" ry="0.9" transform="rotate(107 1463.2 1140.2)"/><ellipse cx="1421.1" cy="1122.1" rx="1.2" ry="0.7" transform="rotate(129 1421.1 1122.1)"/><ellipse cx="1609.4" cy="1142.2" rx="1.3" ry="0.9" transform="rotate(135 1609.4 1142.2)"/><line x1="1434.3" y1="1140.9" x2="1434.1" y2="1144.4" stroke="#000" stroke-width="1.5" stroke-linecap="round"/><line x1="1543.5" y1="1092.5" x2="1545.8" y2="1093.9" stroke="#000" stroke-width="1.2" stroke-linecap="round"/><ellipse cx="1478.1" cy="1139.4" rx="0.8" ry="1.1" transform="rotate(35 1478.1 1139.4)"/><ellipse cx="1424.1" cy="1126.8" rx="1.2" ry="1.1" transform="rotate(19 1424.1 1126.8)"/><ellipse cx="1621.7" cy="1133.6" rx="0.8" ry="0.9" transform="rotate(90 1621.7 1133.6)"/><ellipse cx="1484.9" cy="1099.1" rx="0.8" ry="1.0" transform="rotate(155 1484.9 1099.1)"/><line x1="1455.2" y1="1124.6" x2="1453.1" y2="1125.9" stroke="#000" stroke-width="1.8" stroke-linecap="round"/><line x1="1509.6" y1="1114.7" x2="1510.8" y2="1118.1" stroke="#000" stroke-width="1.8" stroke-linecap="round"/><ellipse cx="1600.2" cy="1111.6" rx="1.0" ry="0.9" transform="rotate(177 1600.2 1111.6)"/><line x1="1604.4" y1="1144.6" x2="1608.9" y2="1145.3" stroke="#000" stroke-width="1.5" stroke-linecap="round"/><ellipse cx="1649.8" cy="973.7" rx="1.1" ry="1.0" transform="rotate(66 1649.8 973.7)"/><ellipse cx="1627.6" cy="627.7" rx="1.2" ry="0.6" transform="rotate(25 1627.6 627.7)"/><line x1="1652.0" y1="909.5" x2="1648.8" y2="911.7" stroke="#000" stroke-width="1.7" stroke-linecap="round"/><line x1="1646.7" y1="612.6" x2="1645.3" y2="614.9" stroke="#000" stroke-width="1.3" stroke-linecap="round"/><line x1="1628.3" y1="968.4" x2="1628.1" y2="971.1" stroke="#000" stroke-width="1.4" stroke-linecap="round"/><ellipse cx="1649.4" cy="715.0" rx="1.3" ry="0.7" transform="rotate(107 1649.4 715.0)"/><ellipse cx="1649.7" cy="805.5" rx="1.1" ry="1.0" transform="rotate(27 1649.7 805.5)"/><ellipse cx="1606.4" cy="652.5" rx="1.1" ry="0.8" transform="rotate(44 1606.4 652.5)"/><line x1="1605.0" y1="816.7" x2="1604.1" y2="820.4" stroke="#000" stroke-width="1.6" stroke-linecap="round"/><ellipse cx="1610.5" cy="884.1" rx="1.2" ry="1.0" transform="rotate(84 1610.5 884.1)"/><ellipse cx="1616.1" cy="696.9" rx="1.2" ry="0.9" transform="rotate(105 1616.1 696.9)"/><line x1="1600.9" y1="739.7" x2="1600.4" y2="742.4" stroke="#000" stroke-width="1.4" stroke-linecap="round"/><ellipse cx="1614.8" cy="995.0" rx="1.4" ry="0.7" transform="rotate(12 1614.8 995.0)"/><ellipse cx="1645.3" cy="776.0" rx="1.0" ry="0.9" transform="rotate(132 1645.3 776.0)"/><line x1="1603.8" y1="689.1" x2="1607.5" y2="691.1" stroke="#000" stroke-width="1.3" stroke-linecap="round"/><line x1="1620.3" y1="868.9" x2="1616.4" y2="871.3" stroke="#000" stroke-width="1.5" stroke-linecap="round"/><line x1="1639.8" y1="896.2" x2="1637.1" y2="898.4" stroke="#000" stroke-width="1.6" stroke-linecap="round"/><line x1="1648.3" y1="650.2" x2="1646.8" y2="651.6" stroke="#000" stroke-width="1.5" stroke-linecap="round"/><ellipse cx="1625.9" cy="985.1" rx="1.1" ry="1.1" transform="rotate(157 1625.9 985.1)"/><ellipse cx="1631.6" cy="751.8" rx="1.1" ry="1.1" transform="rotate(53 1631.6 751.8)"/><ellipse cx="1620.3" cy="822.1" rx="1.0" ry="1.2" transform="rotate(153 1620.3 822.1)"/><ellipse cx="1626.0" cy="777.6" rx="1.0" ry="0.7" transform="rotate(104 1626.0 777.6)"/><line x1="1631.6" y1="634.5" x2="1628.9" y2="635.9" stroke="#000" stroke-width="1.7" stroke-linecap="round"/><ellipse cx="1649.9" cy="681.7" rx="1.5" ry="0.6" transform="rotate(9 1649.9 681.7)"/><line x1="1629.6" y1="796.8" x2="1629.1" y2="801.1" stroke="#000" stroke-width="1.8" stroke-linecap="round"/><line x1="1626.2" y1="805.5" x2="1627.6" y2="808.3" stroke="#000" stroke-width="1.5" stroke-linecap="round"/><line x1="1616.6" y1="978.6" x2="1620.0" y2="979.7" stroke="#000" stroke-width="1.4" stroke-linecap="round"/><ellipse cx="1620.8" cy="824.5" rx="1.5" ry="1.3" transform="rotate(88 1620.8 824.5)"/><line x1="1623.0" y1="848.3" x2="1622.7" y2="851.3" stroke="#000" stroke-width="1.7" stroke-linecap="round"/><line x1="1609.0" y1="725.0" x2="1608.8" y2="729.5" stroke="#000" stroke-width="1.2" stroke-linecap="round"/><line x1="1648.8" y1="875.1" x2="1644.2" y2="876.8" stroke="#000" stroke-width="1.4" stroke-linecap="round"/><ellipse cx="1608.1" cy="716.0" rx="1.2" ry="0.7" transform="rotate(33 1608.1 716.0)"/><ellipse cx="1632.8" cy="841.3" rx="1.6" ry="1.0" transform="rotate(8 1632.8 841.3)"/><ellipse cx="1621.4" cy="915.1" rx="1.3" ry="0.6" transform="rotate(55 1621.4 915.1)"/><line x1="1643.8" y1="833.2" x2="1643.8" y2="835.8" stroke="#000" stroke-width="1.5" stroke-linecap="round"/><ellipse cx="1613.8" cy="858.7" rx="1.6" ry="1.0" transform="rotate(74 1613.8 858.7)"/><line x1="1605.2" y1="662.3" x2="1607.4" y2="663.1" stroke="#000" stroke-width="1.2" stroke-linecap="round"/><line x1="1625.0" y1="928.8" x2="1629.3" y2="929.7" stroke="#000" stroke-width="1.1" stroke-linecap="round"/><line x1="1638.8" y1="728.4" x2="1641.4" y2="729.9" stroke="#000" stroke-width="1.3" stroke-linecap="round"/><ellipse cx="1605.2" cy="961.5" rx="1.0" ry="0.9" transform="rotate(69 1605.2 961.5)"/><ellipse cx="1306.6" cy="705.2" rx="1.6" ry="0.9" transform="rotate(112 1306.6 705.2)"/><line x1="1328.7" y1="589.0" x2="1331.2" y2="592.8" stroke="#000" stroke-width="1.7" stroke-linecap="round"/><line x1="1397.9" y1="623.6" x2="1397.9" y2="628.4" stroke="#000" stroke-width="1.8" stroke-linecap="round"/><line x1="1328.4" y1="636.5" x2="1329.9" y2="638.7" stroke="#000" stroke-width="1.7" stroke-linecap="round"/><ellipse cx="1358.1" cy="692.0" rx="0.9" ry="0.9" transform="rotate(34 1358.1 692.0)"/><ellipse cx="1416.6" cy="624.2" rx="0.8" ry="1.0" transform="rotate(69 1416.6 624.2)"/><ellipse cx="1348.4" cy="593.8" rx="1.4" ry="0.8" transform="rotate(44 1348.4 593.8)"/><ellipse cx="1322.9" cy="623.3" rx="0.7" ry="1.1" transform="rotate(61 1322.9 623.3)"/><ellipse cx="1318.7" cy="680.3" rx="0.9" ry="1.2" transform="rotate(23 1318.7 680.3)"/><line x1="1352.6" y1="696.8" x2="1353.7" y2="699.0" stroke="#000" stroke-width="1.6" stroke-linecap="round"/><ellipse cx="1345.2" cy="714.4" rx="1.6" ry="1.0" transform="rotate(41 1345.2 714.4)"/><line x1="1355.6" y1="602.2" x2="1353.0" y2="603.1" stroke="#000" stroke-width="1.5" stroke-linecap="round"/><line x1="1345.4" y1="617.7" x2="1342.9" y2="618.8" stroke="#000" stroke-width="1.2" stroke-linecap="round"/><ellipse cx="1361.6" cy="658.3" rx="1.4" ry="0.9" transform="rotate(118 1361.6 658.3)"/><ellipse cx="1368.1" cy="627.0" rx="0.8" ry="0.7" transform="rotate(153 1368.1 627.0)"/><ellipse cx="1338.5" cy="674.5" rx="1.2" ry="0.9" transform="rotate(90 1338.5 674.5)"/><ellipse cx="1335.6" cy="593.9" rx="0.9" ry="0.7" transform="rotate(129 1335.6 593.9)"/><line x1="1335.9" y1="638.7" x2="1331.9" y2="640.2" stroke="#000" stroke-width="1.7" stroke-linecap="round"/><ellipse cx="1315.9" cy="622.3" rx="1.3" ry="1.1" transform="rotate(63 1315.9 622.3)"/><line x1="1350.7" y1="673.3" x2="1348.3" y2="674.6" stroke="#000" stroke-width="1.3" stroke-linecap="round"/><ellipse cx="1375.5" cy="609.5" rx="1.5" ry="1.1" transform="rotate(128 1375.5 609.5)"/><ellipse cx="1304.9" cy="590.4" rx="0.9" ry="0.8" transform="rotate(69 1304.9 590.4)"/><line x1="1305.8" y1="626.4" x2="1303.6" y2="627.6" stroke="#000" stroke-width="1.5" stroke-linecap="round"/><ellipse cx="1386.0" cy="619.4" rx="1.3" ry="0.8" transform="rotate(0 1386.0 619.4)"/><ellipse cx="1400.1" cy="689.8" rx="0.7" ry="1.2" transform="rotate(109 1400.1 689.8)"/><ellipse cx="1305.7" cy="618.0" rx="1.4" ry="0.7" transform="rotate(165 1305.7 618.0)"/><line x1="1391.1" y1="595.5" x2="1388.8" y2="597.8" stroke="#000" stroke-width="1.7" stroke-linecap="round"/><line x1="1335.3" y1="596.8" x2="1332.1" y2="597.5" stroke="#000" stroke-width="1.6" stroke-linecap="round"/><line x1="1387.0" y1="696.8" x2="1390.3" y2="697.3" stroke="#000" stroke-width="1.6" stroke-linecap="round"/><line x1="1352.3" y1="653.3" x2="1350.5" y2="654.9" stroke="#000" stroke-width="1.1" stroke-linecap="round"/><ellipse cx="1384.3" cy="693.8" rx="1.2" ry="1.3" transform="rotate(115 1384.3 693.8)"/><ellipse cx="1365.3" cy="618.7" rx="1.0" ry="0.9" transform="rotate(36 1365.3 618.7)"/><line x1="1335.8" y1="602.1" x2="1338.7" y2="604.8" stroke="#000" stroke-width="1.3" stroke-linecap="round"/><line x1="1360.9" y1="643.8" x2="1362.7" y2="646.3" stroke="#000" stroke-width="1.7" stroke-linecap="round"/><ellipse cx="1317.0" cy="661.0" rx="1.4" ry="1.0" transform="rotate(137 1317.0 661.0)"/><ellipse cx="1320.3" cy="675.0" rx="1.1" ry="1.1" transform="rotate(150 1320.3 675.0)"/><ellipse cx="1313.7" cy="624.1" rx="0.9" ry="0.6" transform="rotate(51 1313.7 624.1)"/><ellipse cx="1323.7" cy="679.7" rx="0.8" ry="0.8" transform="rotate(84 1323.7 679.7)"/><ellipse cx="1343.6" cy="607.7" rx="0.7" ry="1.3" transform="rotate(135 1343.6 607.7)"/><line x1="1308.3" y1="681.2" x2="1311.8" y2="682.4" stroke="#000" stroke-width="1.4" stroke-linecap="round"/><ellipse cx="1467.8" cy="895.2" rx="0.7" ry="1.2" transform="rotate(116 1467.8 895.2)"/><line x1="1488.1" y1="953.9" x2="1490.0" y2="955.8" stroke="#000" stroke-width="1.2" stroke-linecap="round"/><line x1="1421.8" y1="941.2" x2="1424.2" y2="942.8" stroke="#000" stroke-width="1.5" stroke-linecap="round"/><ellipse cx="1513.0" cy="954.1" rx="1.4" ry="1.2" transform="rotate(134 1513.0 954.1)"/><line x1="1455.3" y1="893.4" x2="1456.5" y2="896.1" stroke="#000" stroke-width="1.5" stroke-linecap="round"/><ellipse cx="1460.6" cy="946.5" rx="0.7" ry="1.0" transform="rotate(113 1460.6 946.5)"/><line x1="1510.1" y1="934.0" x2="1510.2" y2="938.9" stroke="#000" stroke-width="1.4" stroke-linecap="round"/><ellipse cx="1437.3" cy="904.0" rx="0.8" ry="1.1" transform="rotate(29 1437.3 904.0)"/><ellipse cx="1468.8" cy="957.6" rx="0.7" ry="0.9" transform="rotate(34 1468.8 957.6)"/><line x1="1501.3" y1="878.8" x2="1497.7" y2="881.6" stroke="#000" stroke-width="1.4" stroke-linecap="round"/><ellipse cx="1451.2" cy="932.9" rx="1.1" ry="0.8" transform="rotate(79 1451.2 932.9)"/><line x1="1492.5" y1="945.1" x2="1494.0" y2="947.1" stroke="#000" stroke-width="1.4" stroke-linecap="round"/><ellipse cx="1482.0" cy="907.8" rx="0.8" ry="0.8" transform="rotate(83 1482.0 907.8)"/><line x1="1529.3" y1="952.4" x2="1524.4" y2="953.0" stroke="#000" stroke-width="1.5" stroke-linecap="round"/><line x1="1508.1" y1="883.3" x2="1510.4" y2="886.3" stroke="#000" stroke-width="1.5" stroke-linecap="round"/><line x1="1524.1" y1="917.2" x2="1525.5" y2="919.7" stroke="#000" stroke-width="1.7" stroke-linecap="round"/><line x1="1421.5" y1="894.7" x2="1424.7" y2="895.5" stroke="#000" stroke-width="1.6" stroke-linecap="round"/><ellipse cx="1460.9" cy="926.5" rx="1.2" ry="1.0" transform="rotate(71 1460.9 926.5)"/><line x1="1430.9" y1="893.8" x2="1434.3" y2="895.1" stroke="#000" stroke-width="1.7" stroke-linecap="round"/><ellipse cx="1447.9" cy="887.6" rx="0.9" ry="0.9" transform="rotate(100 1447.9 887.6)"/><ellipse cx="1444.9" cy="925.8" rx="1.2" ry="1.0" transform="rotate(14 1444.9 925.8)"/><ellipse cx="1464.9" cy="885.9" rx="1.5" ry="1.0" transform="rotate(129 1464.9 885.9)"/><line x1="1501.3" y1="888.5" x2="1505.2" y2="889.8" stroke="#000" stroke-width="1.7" stroke-linecap="round"/><line x1="1464.5" y1="892.5" x2="1461.7" y2="894.9" stroke="#000" stroke-width="1.2" stroke-linecap="round"/><ellipse cx="1505.4" cy="884.6" rx="1.0" ry="0.6" transform="rotate(107 1505.4 884.6)"/><line x1="1445.0" y1="903.4" x2="1441.9" y2="904.6" stroke="#000" stroke-width="1.5" stroke-linecap="round"/><line x1="1513.9" y1="923.9" x2="1517.9" y2="926.2" stroke="#000" stroke-width="1.6" stroke-linecap="round"/><line x1="1455.5" y1="940.2" x2="1459.6" y2="941.9" stroke="#000" stroke-width="1.4" stroke-linecap="round"/><line x1="1501.4" y1="954.8" x2="1500.8" y2="956.9" stroke="#000" stroke-width="1.2" stroke-linecap="round"/><ellipse cx="1480.4" cy="944.2" rx="1.5" ry="1.1" transform="rotate(46 1480.4 944.2)"/><line x1="1471.8" y1="1056.2" x2="1475.3" y2="1057.5" stroke="#000" stroke-width="1.1" stroke-linecap="round"/><ellipse cx="1467.7" cy="1078.0" rx="1.2" ry="0.8" transform="rotate(124 1467.7 1078.0)"/><line x1="1487.7" y1="1037.2" x2="1485.6" y2="1040.2" stroke="#000" stroke-width="1.7" stroke-linecap="round"/><ellipse cx="1526.4" cy="1030.8" rx="0.8" ry="1.0" transform="rotate(157 1526.4 1030.8)"/><ellipse cx="1516.0" cy="1032.1" rx="1.4" ry="1.1" transform="rotate(71 1516.0 1032.1)"/><line x1="1494.8" y1="1038.9" x2="1491.8" y2="1040.1" stroke="#000" stroke-width="1.5" stroke-linecap="round"/><ellipse cx="1465.3" cy="1049.8" rx="1.5" ry="1.0" transform="rotate(8 1465.3 1049.8)"/><ellipse cx="1471.9" cy="1051.7" rx="1.2" ry="0.9" transform="rotate(64 1471.9 1051.7)"/><ellipse cx="1460.4" cy="1064.7" rx="0.7" ry="0.9" transform="rotate(178 1460.4 1064.7)"/><line x1="1462.3" y1="1037.7" x2="1464.1" y2="1039.8" stroke="#000" stroke-width="1.5" stroke-linecap="round"/><ellipse cx="1478.3" cy="1064.1" rx="1.6" ry="1.3" transform="rotate(6 1478.3 1064.1)"/><line x1="1500.1" y1="1074.3" x2="1498.4" y2="1078.2" stroke="#000" stroke-width="1.5" stroke-linecap="round"/><line x1="1487.7" y1="1046.5" x2="1483.1" y2="1047.3" stroke="#000" stroke-width="1.6" stroke-linecap="round"/><line x1="1482.0" y1="1074.2" x2="1480.6" y2="1077.4" stroke="#000" stroke-width="1.3" stroke-linecap="round"/><ellipse cx="1498.6" cy="1054.4" rx="1.0" ry="0.8" transform="rotate(178 1498.6 1054.4)"/><ellipse cx="1493.7" cy="1052.0" rx="0.9" ry="0.8" transform="rotate(24 1493.7 1052.0)"/><ellipse cx="1460.5" cy="1082.3" rx="1.1" ry="1.0" transform="rotate(54 1460.5 1082.3)"/><ellipse cx="1471.8" cy="1034.0" rx="1.0" ry="1.1" transform="rotate(99 1471.8 1034.0)"/><line x1="1523.8" y1="1050.0" x2="1527.4" y2="1050.9" stroke="#000" stroke-width="1.2" stroke-linecap="round"/><ellipse cx="1500.6" cy="1089.2" rx="1.4" ry="0.9" transform="rotate(156 1500.6 1089.2)"/><line x1="1463.8" y1="1058.0" x2="1465.7" y2="1060.1" stroke="#000" stroke-width="1.1" stroke-linecap="round"/><line x1="1471.1" y1="1044.8" x2="1471.9" y2="1047.3" stroke="#000" stroke-width="1.2" stroke-linecap="round"/><line x1="1503.1" y1="1080.9" x2="1501.3" y2="1082.8" stroke="#000" stroke-width="1.8" stroke-linecap="round"/><line x1="1501.0" y1="1032.7" x2="1503.2" y2="1036.8" stroke="#000" stroke-width="1.2" stroke-linecap="round"/><line x1="1475.1" y1="1061.7" x2="1471.3" y2="1062.7" stroke="#000" stroke-width="1.2" stroke-linecap="round"/><line x1="1081.8" y1="883.4" x2="1080.1" y2="886.1" stroke="#000" stroke-width="1.3" stroke-linecap="round"/><ellipse cx="1065.3" cy="757.4" rx="1.3" ry="0.8" transform="rotate(89 1065.3 757.4)"/><ellipse cx="1096.7" cy="697.7" rx="0.7" ry="1.2" transform="rotate(102 1096.7 697.7)"/><line x1="1118.2" y1="619.5" x2="1120.3" y2="623.1" stroke="#000" stroke-width="1.2" stroke-linecap="round"/><line x1="1072.0" y1="653.6" x2="1070.1" y2="654.8" stroke="#000" stroke-width="1.4" stroke-linecap="round"/><ellipse cx="1093.2" cy="823.6" rx="1.3" ry="1.0" transform="rotate(60 1093.2 823.6)"/><line x1="1106.6" y1="696.6" x2="1103.3" y2="699.4" stroke="#000" stroke-width="1.3" stroke-linecap="round"/><ellipse cx="1106.8" cy="971.4" rx="1.0" ry="1.0" transform="rotate(169 1106.8 971.4)"/><ellipse cx="1069.6" cy="603.4" rx="1.3" ry="1.1" transform="rotate(65 1069.6 603.4)"/><line x1="1118.3" y1="686.6" x2="1120.5" y2="686.8" stroke="#000" stroke-width="1.2" stroke-linecap="round"/><ellipse cx="1065.5" cy="790.7" rx="0.9" ry="1.3" transform="rotate(66 1065.5 790.7)"/><line x1="1068.6" y1="666.3" x2="1072.7" y2="668.6" stroke="#000" stroke-width="1.1" stroke-linecap="round"/><line x1="1107.9" y1="690.6" x2="1106.4" y2="693.8" stroke="#000" stroke-width="1.3" stroke-linecap="round"/><ellipse cx="1108.4" cy="774.8" rx="1.5" ry="0.7" transform="rotate(132 1108.4 774.8)"/><ellipse cx="1065.8" cy="845.3" rx="1.5" ry="0.6" transform="rotate(102 1065.8 845.3)"/><line x1="1084.3" y1="948.0" x2="1087.3" y2="950.5" stroke="#000" stroke-width="1.3" stroke-linecap="round"/><ellipse cx="1077.2" cy="764.8" rx="0.9" ry="1.1" transform="rotate(116 1077.2 764.8)"/><ellipse cx="1079.3" cy="977.8" rx="1.2" ry="0.7" transform="rotate(155 1079.3 977.8)"/><line x1="1111.0" y1="699.8" x2="1113.8" y2="703.3" stroke="#000" stroke-width="1.3" stroke-linecap="round"/><ellipse cx="1090.2" cy="938.6" rx="1.3" ry="1.0" transform="rotate(82 1090.2 938.6)"/><ellipse cx="1095.6" cy="935.5" rx="1.5" ry="0.9" transform="rotate(140 1095.6 935.5)"/><line x1="1110.6" y1="667.3" x2="1113.6" y2="671.3" stroke="#000" stroke-width="1.1" stroke-linecap="round"/><ellipse cx="1068.5" cy="970.2" rx="1.5" ry="0.7" transform="rotate(132 1068.5 970.2)"/><line x1="1067.1" y1="663.1" x2="1068.2" y2="665.1" stroke="#000" stroke-width="1.7" stroke-linecap="round"/><line x1="1102.8" y1="934.4" x2="1104.3" y2="935.8" stroke="#000" stroke-width="1.7" stroke-linecap="round"/><ellipse cx="1102.0" cy="614.4" rx="0.9" ry="0.9" transform="rotate(19 1102.0 614.4)"/><ellipse cx="1063.2" cy="976.5" rx="1.5" ry="0.7" transform="rotate(88 1063.2 976.5)"/><ellipse cx="1069.9" cy="762.8" rx="1.3" ry="0.7" transform="rotate(133 1069.9 762.8)"/><ellipse cx="1091.0" cy="642.7" rx="1.1" ry="1.2" transform="rotate(63 1091.0 642.7)"/><line x1="1073.1" y1="966.1" x2="1075.9" y2="969.2" stroke="#000" stroke-width="1.2" stroke-linecap="round"/><ellipse cx="1077.3" cy="626.2" rx="1.2" ry="0.9" transform="rotate(100 1077.3 626.2)"/><line x1="1083.3" y1="602.1" x2="1082.8" y2="606.0" stroke="#000" stroke-width="1.5" stroke-linecap="round"/><line x1="1101.4" y1="971.3" x2="1102.7" y2="975.3" stroke="#000" stroke-width="1.3" stroke-linecap="round"/><ellipse cx="1086.3" cy="969.7" rx="1.0" ry="0.9" transform="rotate(26 1086.3 969.7)"/><line x1="1118.2" y1="600.3" x2="1121.6" y2="603.7" stroke="#000" stroke-width="1.5" stroke-linecap="round"/><ellipse cx="1083.9" cy="691.5" rx="0.8" ry="1.2" transform="rotate(141 1083.9 691.5)"/><line x1="1115.4" y1="617.5" x2="1114.0" y2="620.1" stroke="#000" stroke-width="1.5" stroke-linecap="round"/><ellipse cx="1080.3" cy="969.2" rx="1.4" ry="1.2" transform="rotate(92 1080.3 969.2)"/><ellipse cx="1096.4" cy="978.0" rx="1.3" ry="1.1" transform="rotate(68 1096.4 978.0)"/><ellipse cx="1103.3" cy="749.5" rx="1.3" ry="1.1" transform="rotate(58 1103.3 749.5)"/><ellipse cx="1241.8" cy="1008.9" rx="1.3" ry="0.8" transform="rotate(164 1241.8 1008.9)"/><ellipse cx="1221.5" cy="1024.9" rx="1.1" ry="0.8" transform="rotate(26 1221.5 1024.9)"/><ellipse cx="1280.6" cy="1007.6" rx="1.2" ry="1.2" transform="rotate(43 1280.6 1007.6)"/><ellipse cx="1182.4" cy="1034.0" rx="1.3" ry="1.2" transform="rotate(161 1182.4 1034.0)"/><ellipse cx="1272.8" cy="963.9" rx="1.4" ry="1.2" transform="rotate(22 1272.8 963.9)"/><ellipse cx="1180.0" cy="982.6" rx="1.0" ry="1.2" transform="rotate(94 1180.0 982.6)"/><ellipse cx="1218.9" cy="967.9" rx="1.6" ry="1.1" transform="rotate(81 1218.9 967.9)"/><line x1="1222.8" y1="1030.8" x2="1221.5" y2="1032.9" stroke="#000" stroke-width="1.4" stroke-linecap="round"/><ellipse cx="1227.7" cy="981.4" rx="1.0" ry="0.9" transform="rotate(3 1227.7 981.4)"/><ellipse cx="1186.1" cy="1011.3" rx="0.9" ry="1.1" transform="rotate(49 1186.1 1011.3)"/><line x1="1202.6" y1="980.7" x2="1201.7" y2="982.8" stroke="#000" stroke-width="1.7" stroke-linecap="round"/><line x1="1185.5" y1="996.3" x2="1187.0" y2="999.9" stroke="#000" stroke-width="1.1" stroke-linecap="round"/><line x1="1217.1" y1="991.7" x2="1217.9" y2="994.4" stroke="#000" stroke-width="1.6" stroke-linecap="round"/><ellipse cx="1265.4" cy="991.7" rx="1.2" ry="1.2" transform="rotate(34 1265.4 991.7)"/><ellipse cx="1286.3" cy="1024.1" rx="1.3" ry="0.8" transform="rotate(13 1286.3 1024.1)"/><ellipse cx="1258.3" cy="994.1" rx="1.1" ry="1.2" transform="rotate(136 1258.3 994.1)"/><ellipse cx="1163.3" cy="1013.3" rx="1.1" ry="1.2" transform="rotate(75 1163.3 1013.3)"/><ellipse cx="1221.6" cy="1040.1" rx="1.1" ry="1.0" transform="rotate(148 1221.6 1040.1)"/><ellipse cx="1247.1" cy="1026.6" rx="0.7" ry="1.1" transform="rotate(100 1247.1 1026.6)"/><ellipse cx="1260.0" cy="1029.3" rx="0.9" ry="0.7" transform="rotate(147 1260.0 1029.3)"/><line x1="1171.4" y1="967.6" x2="1175.0" y2="968.3" stroke="#000" stroke-width="1.6" stroke-linecap="round"/><ellipse cx="1252.4" cy="1003.5" rx="1.3" ry="0.9" transform="rotate(105 1252.4 1003.5)"/><line x1="1289.1" y1="1032.5" x2="1290.4" y2="1034.6" stroke="#000" stroke-width="1.5" stroke-linecap="round"/><ellipse cx="1160.8" cy="1049.0" rx="0.9" ry="0.8" transform="rotate(46 1160.8 1049.0)"/><ellipse cx="1271.7" cy="1010.0" rx="1.1" ry="0.6" transform="rotate(55 1271.7 1010.0)"/><line x1="1271.6" y1="1031.4" x2="1273.8" y2="1033.0" stroke="#000" stroke-width="1.1" stroke-linecap="round"/><ellipse cx="1229.8" cy="993.6" rx="1.1" ry="1.0" transform="rotate(66 1229.8 993.6)"/><line x1="1262.4" y1="977.7" x2="1266.0" y2="978.3" stroke="#000" stroke-width="1.3" stroke-linecap="round"/><ellipse cx="1229.3" cy="996.8" rx="1.0" ry="0.8" transform="rotate(143 1229.3 996.8)"/><line x1="1197.6" y1="1022.1" x2="1198.2" y2="1025.8" stroke="#000" stroke-width="1.8" stroke-linecap="round"/></g>
<g fill="none" stroke="#ff0000" stroke-width="2.5">
<rect x="1058.6" y="558.2" width="597.6" height="595.4"/>
<rect x="1092.3" y="591.1" width="531.7" height="529.9"/>
<rect x="1124" y="622" width="468.3" height="467.8"/>
<rect x="1155.3" y="653" width="405.7" height="404.5"/>
<rect x="1186.1" y="684.3" width="343.7" height="342.4"/>
<rect x="1217.5" y="715.4" width="280.6" height="280.1"/>
<rect x="1248.7" y="746.9" width="218.5" height="216.3"/>
<rect x="1279.5" y="778.2" width="158.1" height="155.9"/>
</g>
<g stroke="#ff0000" fill="none" stroke-width="2.3" stroke-linejoin="round">
<polyline points="294.0,464.0 350.6,174.7 407.2,155.0 463.8,270.0 520.4,350.0 577.0,416.0 633.5,447.0 690.1,473.0 746.7,485.3 803.3,470.5 859.9,455.0 916.5,456.3 973.1,456.0 1029.7,447.0 1086.3,448.0 1142.8,450.0 1199.4,455.0 1256.0,455.6 1312.6,455.6 1369.2,455.0 1425.8,453.0 1482.4,461.0 1539.0,466.0 1595.6,472.0 1652.2,474.0"/>
<circle cx="294.0" cy="464.0" r="13.3"/>
<circle cx="350.6" cy="174.7" r="13.3"/>
<circle cx="407.2" cy="155.0" r="13.3"/>
<circle cx="463.8" cy="270.0" r="13.3"/>
<circle cx="520.4" cy="350.0" r="13.3"/>
<circle cx="577.0" cy="416.0" r="13.3"/>
<circle cx="633.5" cy="447.0" r="13.3"/>
<circle cx="690.1" cy="473.0" r="13.3"/>
<circle cx="746.7" cy="485.3" r="13.3"/>
<circle cx="803.3" cy="470.5" r="13.3"/>
<circle cx="859.9" cy="455.0" r="13.3"/>
<circle cx="916.5" cy="456.3" r="13.3"/>
<circle cx="973.1" cy="456.0" r="13.3"/>
<circle cx="1029.7" cy="447.0" r="13.3"/>
<circle cx="1086.3" cy="448.0" r="13.3"/>
<circle cx="1142.8" cy="450.0" r="13.3"/>
<circle cx="1199.4" cy="455.0" r="13.3"/>
<circle cx="1256.0" cy="455.6" r="13.3"/>
<circle cx="1312.6" cy="455.6" r="13.3"/>
<circle cx="1369.2" cy="455.0" r="13.3"/>
<circle cx="1425.8" cy="453.0" r="13.3"/>
<circle cx="1482.4" cy="461.0" r="13.3"/>
<circle cx="1539.0" cy="466.0" r="13.3"/>
<circle cx="1595.6" cy="472.0" r="13.3"/>
<circle cx="1652.2" cy="474.0" r="13.3"/>
</g>
<g stroke="#00ff00" fill="none" stroke-width="3.0" stroke-linejoin="round">
<polyline points="294.0,1155.2 350.6,669.7 407.2,488.3 463.8,518.9 520.4,539.2 577.0,559.0 633.5,549.1 690.1,537.0 746.7,527.9 803.3,512.5 859.9,504.4 916.5,501.3 973.1,497.3 1029.7,493.5 1086.3,496.0 1142.8,498.7 1199.4,502.8 1256.0,506.6 1312.6,505.3 1369.2,503.8 1425.8,503.8 1482.4,509.4 1539.0,512.7 1595.6,514.6 1652.2,512.6"/>
<circle cx="294.0" cy="1155.2" r="13.3"/>
<circle cx="350.6" cy="669.7" r="13.3"/>
<circle cx="407.2" cy="488.3" r="13.3"/>
<circle cx="463.8" cy="518.9" r="13.3"/>
<circle cx="520.4" cy="539.2" r="13.3"/>
<circle cx="577.0" cy="559.0" r="13.3"/>
<circle cx="633.5" cy="549.1" r="13.3"/>
<circle cx="690.1" cy="537.0" r="13.3"/>
<circle cx="746.7" cy="527.9" r="13.3"/>
<circle cx="803.3" cy="512.5" r="13.3"/>
<circle cx="859.9" cy="504.4" r="13.3"/>
<circle cx="916.5" cy="501.3" r="13.3"/>
<circle cx="973.1" cy="497.3" r="13.3"/>
<circle cx="1029.7" cy="493.5" r="13.3"/>
<circle cx="1086.3" cy="496.0" r="13.3"/>
<circle cx="1142.8" cy="498.7" r="13.3"/>
<circle cx="1199.4" cy="502.8" r="13.3"/>
<circle cx="1256.0" cy="506.6" r="13.3"/>
<circle cx="1312.6" cy="505.3" r="13.3"/>
<circle cx="1369.2" cy="503.8" r="13.3"/>
<circle cx="1425.8" cy="503.8" r="13.3"/>
<circle cx="1482.4" cy="509.4" r="13.3"/>
<circle cx="1539.0" cy="512.7" r="13.3"/>
<circle cx="1595.6" cy="514.6" r="13.3"/>
<circle cx="1652.2" cy="512.6" r="13.3"/>
</g>
<g stroke="#0000ff" fill="none" stroke-width="2.6" stroke-linejoin="round">
<polyline points="294.0,1000.7 350.6,365.2 407.2,194.0 463.8,271.5 520.4,352.0 577.0,410.0 633.5,436.0 690.1,448.0 746.7,450.0 803.3,443.0 859.9,440.0 916.5,444.0 973.1,447.7 1029.7,445.6 1086.3,446.0 1142.8,452.0 1199.4,456.0 1256.0,457.0 1312.6,457.0 1369.2,455.0 1425.8,455.0 1482.4,464.0 1539.0,469.0 1595.6,475.0 1652.2,477.0"/>
<circle cx="294.0" cy="1000.7" r="13.3"/>
<circle cx="350.6" cy="365.2" r="13.3"/>
<circle cx="407.2" cy="194.0" r="13.3"/>
<circle cx="463.8" cy="271.5" r="13.3"/>
<circle cx="520.4" cy="352.0" r="13.3"/>
<circle cx="577.0" cy="410.0" r="13.3"/>
<circle cx="633.5" cy="436.0" r="13.3"/>
<circle cx="690.1" cy="448.0" r="13.3"/>
<circle cx="746.7" cy="450.0" r="13.3"/>
<circle cx="803.3" cy="443.0" r="13.3"/>
<circle cx="859.9" cy="440.0" r="13.3"/>
<circle cx="916.5" cy="444.0" r="13.3"/>
<circle cx="973.1" cy="447.7" r="13.3"/>
<circle cx="1029.7" cy="445.6" r="13.3"/>
<circle cx="1086.3" cy="446.0" r="13.3"/>
<circle cx="1142.8" cy="452.0" r="13.3"/>
<circle cx="1199.4" cy="456.0" r="13.3"/>
<circle cx="1256.0" cy="457.0" r="13.3"/>
<circle cx="1312.6" cy="457.0" r="13.3"/>
<circle cx="1369.2" cy="455.0" r="13.3"/>
<circle cx="1425.8" cy="455.0" r="13.3"/>
<circle cx="1482.4" cy="464.0" r="13.3"/>
<circle cx="1539.0" cy="469.0" r="13.3"/>
<circle cx="1595.6" cy="475.0" r="13.3"/>
<circle cx="1652.2" cy="477.0" r="13.3"/>
</g>
<g stroke="#00ffff" fill="none" stroke-width="3.0" stroke-linejoin="round">
<polyline points="294.0,1065.3 350.6,410.0 407.2,207.0 463.8,268.5 520.4,341.6 577.0,401.0 633.5,422.5 690.1,439.3 746.7,444.0 803.3,435.6 859.9,433.0 916.5,435.6 973.1,438.0 1029.7,435.6 1086.3,439.7 1142.8,443.0 1199.4,449.0 1256.0,452.0 1312.6,452.0 1369.2,449.0 1425.8,449.5 1482.4,456.0 1539.0,462.0 1595.6,466.3 1652.2,467.5"/>
<circle cx="294.0" cy="1065.3" r="13.3"/>
<circle cx="350.6" cy="410.0" r="13.3"/>
<circle cx="407.2" cy="207.0" r="13.3"/>
<circle cx="463.8" cy="268.5" r="13.3"/>
<circle cx="520.4" cy="341.6" r="13.3"/>
<circle cx="577.0" cy="401.0" r="13.3"/>
<circle cx="633.5" cy="422.5" r="13.3"/>
<circle cx="690.1" cy="439.3" r="13.3"/>
<circle cx="746.7" cy="444.0" r="13.3"/>
<circle cx="803.3" cy="435.6" r="13.3"/>
<circle cx="859.9" cy="433.0" r="13.3"/>
<circle cx="916.5" cy="435.6" r="13.3"/>
<circle cx="973.1" cy="438.0" r="13.3"/>
<circle cx="1029.7" cy="435.6" r="13.3"/>
<circle cx="1086.3" cy="439.7" r="13.3"/>
<circle cx="1142.8" cy="443.0" r="13.3"/>
<circle cx="1199.4" cy="449.0" r="13.3"/>
<circle cx="1256.0" cy="452.0" r="13.3"/>
<circle cx="1312.6" cy="452.0" r="13.3"/>
<circle cx="1369.2" cy="449.0" r="13.3"/>
<circle cx="1425.8" cy="449.5" r="13.3"/>
<circle cx="1482.4" cy="456.0" r="13.3"/>
<circle cx="1539.0" cy="462.0" r="13.3"/>
<circle cx="1595.6" cy="466.3" r="13.3"/>
<circle cx="1652.2" cy="467.5" r="13.3"/>
</g>
<g stroke="#ff00ff" fill="none" stroke-width="2.6" stroke-linejoin="round">
<polyline points="294.0,1053.8 350.6,408.9 407.2,214.0 463.8,277.5 520.4,352.0 577.0,407.0 633.5,438.0 690.1,452.0 746.7,454.2 803.3,447.0 859.9,447.7 916.5,449.7 973.1,448.0 1029.7,448.7 1086.3,451.7 1142.8,456.8 1199.4,460.9 1256.0,462.0 1312.6,462.0 1369.2,460.0 1425.8,460.0 1482.4,468.0 1539.0,473.0 1595.6,479.7 1652.2,482.0"/>
<circle cx="294.0" cy="1053.8" r="13.3"/>
<circle cx="350.6" cy="408.9" r="13.3"/>
<circle cx="407.2" cy="214.0" r="13.3"/>
<circle cx="463.8" cy="277.5" r="13.3"/>
<circle cx="520.4" cy="352.0" r="13.3"/>
<circle cx="577.0" cy="407.0" r="13.3"/>
<circle cx="633.5" cy="438.0" r="13.3"/>
<circle cx="690.1" cy="452.0" r="13.3"/>
<circle cx="746.7" cy="454.2" r="13.3"/>
<circle cx="803.3" cy="447.0" r="13.3"/>
<circle cx="859.9" cy="447.7" r="13.3"/>
<circle cx="916.5" cy="449.7" r="13.3"/>
<circle cx="973.1" cy="448.0" r="13.3"/>
<circle cx="1029.7" cy="448.7" r="13.3"/>
<circle cx="1086.3" cy="451.7" r="13.3"/>
<circle cx="1142.8" cy="456.8" r="13.3"/>
<circle cx="1199.4" cy="460.9" r="13.3"/>
<circle cx="1256.0" cy="462.0" r="13.3"/>
<circle cx="1312.6" cy="462.0" r="13.3"/>
<circle cx="1369.2" cy="460.0" r="13.3"/>
<circle cx="1425.8" cy="460.0" r="13.3"/>
<circle cx="1482.4" cy="468.0" r="13.3"/>
<circle cx="1539.0" cy="473.0" r="13.3"/>
<circle cx="1595.6" cy="479.7" r="13.3"/>
<circle cx="1652.2" cy="482.0" r="13.3"/>
</g>
<g stroke="#ffff00" fill="none" stroke-width="2.6" stroke-linejoin="round">
<polyline points="294.0,949.8 350.6,337.5 407.2,190.6 463.8,268.5 520.4,352.0 577.0,417.0 633.5,441.8 690.1,462.0 746.7,469.0 803.3,461.0 859.9,453.3 916.5,457.9 973.1,466.0 1029.7,462.4 1086.3,466.5 1142.8,470.0 1199.4,474.7 1256.0,477.3 1312.6,477.0 1369.2,474.3 1425.8,473.3 1482.4,479.4 1539.0,484.0 1595.6,490.4 1652.2,492.6"/>
<circle cx="294.0" cy="949.8" r="13.3"/>
<circle cx="350.6" cy="337.5" r="13.3"/>
<circle cx="407.2" cy="190.6" r="13.3"/>
<circle cx="463.8" cy="268.5" r="13.3"/>
<circle cx="520.4" cy="352.0" r="13.3"/>
<circle cx="577.0" cy="417.0" r="13.3"/>
<circle cx="633.5" cy="441.8" r="13.3"/>
<circle cx="690.1" cy="462.0" r="13.3"/>
<circle cx="746.7" cy="469.0" r="13.3"/>
<circle cx="803.3" cy="461.0" r="13.3"/>
<circle cx="859.9" cy="453.3" r="13.3"/>
<circle cx="916.5" cy="457.9" r="13.3"/>
<circle cx="973.1" cy="466.0" r="13.3"/>
<circle cx="1029.7" cy="462.4" r="13.3"/>
<circle cx="1086.3" cy="466.5" r="13.3"/>
<circle cx="1142.8" cy="470.0" r="13.3"/>
<circle cx="1199.4" cy="474.7" r="13.3"/>
<circle cx="1256.0" cy="477.3" r="13.3"/>
<circle cx="1312.6" cy="477.0" r="13.3"/>
<circle cx="1369.2" cy="474.3" r="13.3"/>
<circle cx="1425.8" cy="473.3" r="13.3"/>
<circle cx="1482.4" cy="479.4" r="13.3"/>
<circle cx="1539.0" cy="484.0" r="13.3"/>
<circle cx="1595.6" cy="490.4" r="13.3"/>
<circle cx="1652.2" cy="492.6" r="13.3"/>
</g>
<g stroke="#000000" fill="none" stroke-width="2.4" stroke-linejoin="round">
<polyline points="294.0,1080.4 350.6,429.5 407.2,222.6 463.8,286.9 520.4,363.4 577.0,417.6 633.5,432.6 690.1,444.9 746.7,446.9 803.3,439.2 859.9,438.2 916.5,440.7 973.1,441.3 1029.7,438.7 1086.3,441.3 1142.8,446.1 1199.4,451.2 1256.0,453.4 1312.6,453.4 1369.2,451.1 1425.8,451.6 1482.4,458.7 1539.0,464.6 1595.6,470.4 1652.2,471.2"/>
<circle cx="294.0" cy="1080.4" r="13.3"/>
<circle cx="350.6" cy="429.5" r="13.3"/>
<circle cx="407.2" cy="222.6" r="13.3"/>
<circle cx="463.8" cy="286.9" r="13.3"/>
<circle cx="520.4" cy="363.4" r="13.3"/>
<circle cx="577.0" cy="417.6" r="13.3"/>
<circle cx="633.5" cy="432.6" r="13.3"/>
<circle cx="690.1" cy="444.9" r="13.3"/>
<circle cx="746.7" cy="446.9" r="13.3"/>
<circle cx="803.3" cy="439.2" r="13.3"/>
<circle cx="859.9" cy="438.2" r="13.3"/>
<circle cx="916.5" cy="440.7" r="13.3"/>
<circle cx="973.1" cy="441.3" r="13.3"/>
<circle cx="1029.7" cy="438.7" r="13.3"/>
<circle cx="1086.3" cy="441.3" r="13.3"/>
<circle cx="1142.8" cy="446.1" r="13.3"/>
<circle cx="1199.4" cy="451.2" r="13.3"/>
<circle cx="1256.0" cy="453.4" r="13.3"/>
<circle cx="1312.6" cy="453.4" r="13.3"/>
<circle cx="1369.2" cy="451.1" r="13.3"/>
<circle cx="1425.8" cy="451.6" r="13.3"/>
<circle cx="1482.4" cy="458.7" r="13.3"/>
<circle cx="1539.0" cy="464.6" r="13.3"/>
<circle cx="1595.6" cy="470.4" r="13.3"/>
<circle cx="1652.2" cy="471.2" r="13.3"/>
</g>
<g fill="#000">
<rect x="236" y="24" width="4" height="1169"/>
<rect x="1718" y="24" width="4" height="1169"/>
<rect x="236" y="24" width="1486" height="3.8"/>
<rect x="236" y="1189.2" width="1486" height="3.8"/>
<rect x="238" y="21.8" width="15" height="2.6"/>
<rect x="1715.8" y="1178" width="2.4" height="11.5"/>
</g>
<g stroke="#1a1a1a" stroke-width="2.2">
<line x1="240" y1="169.9" x2="252.8" y2="169.9"/>
<line x1="240" y1="315.7" x2="252.8" y2="315.7"/>
<line x1="240" y1="462.2" x2="252.8" y2="462.2"/>
<line x1="240" y1="608.2" x2="252.8" y2="608.2"/>
<line x1="240" y1="754.4" x2="252.8" y2="754.4"/>
<line x1="240" y1="901.1" x2="252.8" y2="901.1"/>
<line x1="240" y1="1046.8" x2="252.8" y2="1046.8"/>
<line x1="422.1" y1="1177.8" x2="422.1" y2="1189.5"/>
<line x1="607.5" y1="1177.8" x2="607.5" y2="1189.5"/>
<line x1="794.4" y1="1177.8" x2="794.4" y2="1189.5"/>
<line x1="979.8" y1="1177.8" x2="979.8" y2="1189.5"/>
<line x1="1163.5" y1="1181.3" x2="1163.5" y2="1189.5"/>
<line x1="1348.8" y1="1181.3" x2="1348.8" y2="1189.5"/>
<line x1="1534.6" y1="1181.3" x2="1534.6" y2="1189.5"/>
</g>
<g font-family="Liberation Serif, 'Times New Roman', serif" font-size="80" fill="#000" stroke="#000" stroke-width="0.6" stroke-linejoin="round">
<text x="233.4" y="1266">0</text>
<text x="520.7" y="1274.3">1<tspan dx="-4">000</tspan></text>
<text x="902" y="1274.2">2000</text>
<text x="1264.5" y="1268.4">3000</text>
<text x="1597" y="1265.7">4000</text>
<text x="120.6" y="92.2">40</text>
<text x="121.6" y="364.1">30</text>
<text x="122.3" y="650.3">20</text>
<text x="128.7" y="946.5">1<tspan dx="-3.6">0</tspan></text>
<text x="155.9" y="1216">0</text>
</g>
<text font-family="Liberation Serif, 'Times New Roman', serif" font-size="87" stroke="#000" stroke-width="0.6" stroke-linejoin="round" transform="translate(82.3,807.5) rotate(-90)">Porosity (%)</text>
<text font-family="Liberation Serif, 'Times New Roman', serif" font-size="87.4" stroke="#000" stroke-width="1.3" stroke-linejoin="round" x="747" y="1377.9">Element size (</text>
<text font-family="Liberation Serif, 'Times New Roman', serif" font-size="87.4" font-style="italic" stroke="#000" stroke-width="0.4" stroke-linejoin="round" transform="translate(1245.9,1377.9) scale(1.1,1)">μ</text>
<text font-family="Liberation Serif, 'Times New Roman', serif" font-size="87.4" font-style="italic" stroke="#000" stroke-width="0.3" stroke-linejoin="round" transform="translate(1289.9,1377.9) scale(1.26,1)">m</text>
<text font-family="Liberation Serif, 'Times New Roman', serif" font-size="87.4" stroke="#000" stroke-width="1.3" stroke-linejoin="round" x="1366.6" y="1377.9">)</text>
<rect x="652.6" y="59.2" width="874.1" height="243.2" fill="#fff" stroke="#e4e4e4" stroke-width="4.2"/>
<g stroke="#ff0000" fill="none" stroke-width="2.3"><line x1="688.1" y1="104.3" x2="820" y2="104.3"/><circle cx="752.3" cy="104.3" r="13.3"/></g>
<text font-family="Liberation Serif, 'Times New Roman', serif" font-size="60.5" stroke="#000" stroke-width="1.4" stroke-linejoin="round" x="853.0" y="117.6">Rock1</text>
<g stroke="#00ff00" fill="none" stroke-width="3.0"><line x1="688.1" y1="161.0" x2="820" y2="161.0"/><circle cx="752.3" cy="161.0" r="13.3"/></g>
<text font-family="Liberation Serif, 'Times New Roman', serif" font-size="60.5" stroke="#000" stroke-width="1.4" stroke-linejoin="round" x="853.0" y="174.6">Rock2</text>
<g stroke="#0000ff" fill="none" stroke-width="2.6"><line x1="688.1" y1="215.0" x2="820" y2="215.0"/><circle cx="752.3" cy="215.0" r="13.3"/></g>
<text font-family="Liberation Serif, 'Times New Roman', serif" font-size="60.5" stroke="#000" stroke-width="1.4" stroke-linejoin="round" x="853.0" y="229.9">Rock3</text>
<g stroke="#00ffff" fill="none" stroke-width="3.0"><line x1="688.1" y1="271.5" x2="820" y2="271.5"/><circle cx="752.3" cy="271.5" r="13.3"/></g>
<text font-family="Liberation Serif, 'Times New Roman', serif" font-size="60.5" stroke="#000" stroke-width="1.4" stroke-linejoin="round" x="853.0" y="286.5">Rock4</text>
<g stroke="#ff00ff" fill="none" stroke-width="2.6"><line x1="1163.5" y1="101.8" x2="1296.1" y2="101.8"/><circle cx="1228.4" cy="101.8" r="13.3"/></g>
<text font-family="Liberation Serif, 'Times New Roman', serif" font-size="60.5" stroke="#000" stroke-width="1.4" stroke-linejoin="round" x="1331.5" y="121.9">Rock5</text>
<g stroke="#ffff00" fill="none" stroke-width="2.6"><line x1="1163.5" y1="157.0" x2="1296.1" y2="157.0"/><circle cx="1228.4" cy="157.0" r="13.3"/></g>
<text font-family="Liberation Serif, 'Times New Roman', serif" font-size="60.5" stroke="#000" stroke-width="1.4" stroke-linejoin="round" x="1331.5" y="178.5">Rock6</text>
<g stroke="#000000" fill="none" stroke-width="2.4"><line x1="1163.5" y1="211.9" x2="1296.1" y2="211.9"/><circle cx="1228.4" cy="211.9" r="13.3"/></g>
<text font-family="Liberation Serif, 'Times New Roman', serif" font-size="60.5" stroke="#000" stroke-width="1.4" stroke-linejoin="round" x="1331.5" y="235.0">Rock7</text>
</svg>
</body></html>
